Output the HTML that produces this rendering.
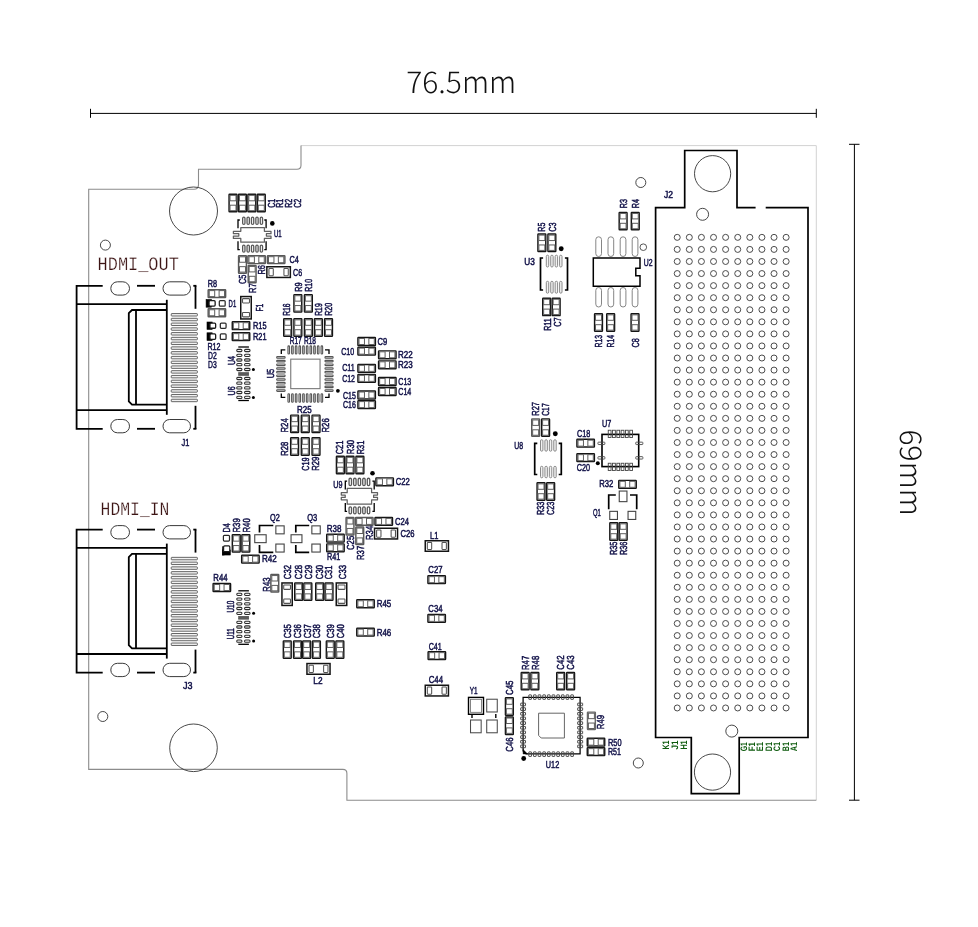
<!DOCTYPE html>
<html><head><meta charset="utf-8"><title>PCB dimension drawing</title>
<style>
html,body{margin:0;padding:0;background:#fff}
body{width:978px;height:927px;overflow:hidden}
svg{display:block;will-change:transform}
text{font-family:"Liberation Sans",sans-serif;text-rendering:geometricPrecision}
.l{font-size:10.2px;fill:#111148;stroke:#111148;stroke-width:.5px}
.g{font-size:9.4px;fill:#0c5a0c;font-weight:bold}
.h{font-family:"Liberation Mono",monospace;font-size:19.1px;fill:#3c1414;stroke:#fff;stroke-width:.25px}
.dim{font-family:"Noto Sans CJK SC","Liberation Sans",sans-serif;font-weight:300;font-size:30px;fill:#111}
</style></head><body>
<svg width="978" height="927" viewBox="0 0 978 927">
<rect width="978" height="927" fill="#fff"/>
<g id="dims">
<line x1="90" y1="113.4" x2="816.3" y2="113.4" stroke="#000" stroke-width="1"/>
<line x1="90.5" y1="108.8" x2="90.5" y2="117.8" stroke="#000" stroke-width="1"/>
<line x1="816.3" y1="108.8" x2="816.3" y2="117.8" stroke="#000" stroke-width="1"/>
<line x1="854.4" y1="144.3" x2="854.4" y2="800.2" stroke="#000" stroke-width="1"/>
<line x1="849" y1="144.3" x2="859.5" y2="144.3" stroke="#000" stroke-width="1"/>
<line x1="849" y1="800.2" x2="859.5" y2="800.2" stroke="#000" stroke-width="1"/>
<text class="dim" x="406.2" y="92.7" textLength="110" lengthAdjust="spacingAndGlyphs">76.5mm</text>
<text class="dim" transform="translate(900 429.6) rotate(90)" textLength="86.2" lengthAdjust="spacingAndGlyphs">69mm</text>
</g>
<g id="board">
<path d="M301 145.6 H816.3 V800.2" fill="none" stroke="#d2d2d2" stroke-width="1"/>
<path d="M816.3 800.2 H346.9 V773.4 Q346.9 769.4 342.9 769.4 H88.7 V189.3 H194 Q198.5 189.3 198.5 184.8 V169.3 H297 Q301 169.3 301 165.3 V145.6" fill="none" stroke="#8c8c8c" stroke-width="1.1"/>
<circle cx="193.5" cy="211" r="24" fill="none" stroke="#333" stroke-width="0.9"/>
<circle cx="193.5" cy="747.8" r="23.8" fill="none" stroke="#333" stroke-width="0.9"/>
<circle cx="105.4" cy="245.1" r="5" fill="none" stroke="#333" stroke-width="0.9"/>
<circle cx="102.8" cy="716.5" r="5" fill="none" stroke="#333" stroke-width="0.9"/>
<circle cx="640.8" cy="182.5" r="5" fill="none" stroke="#333" stroke-width="0.9"/>
<circle cx="638.3" cy="763" r="5" fill="none" stroke="#333" stroke-width="0.9"/>
</g>
<g id="hdmi">
<path d="M102.7 285.8 H76.6 V428.8 H102.7" fill="none" stroke="#000" stroke-width="1.8"/>
<line x1="137" y1="285.8" x2="155" y2="285.8" stroke="#000" stroke-width="1.8"/>
<line x1="137" y1="428.8" x2="155" y2="428.8" stroke="#000" stroke-width="1.8"/>
<line x1="195.5" y1="285.8" x2="195.5" y2="308.8" stroke="#000" stroke-width="1.8"/>
<line x1="195.5" y1="405.8" x2="195.5" y2="428.8" stroke="#000" stroke-width="1.8"/>
<line x1="193.3" y1="285.8" x2="196.4" y2="285.8" stroke="#000" stroke-width="1.8"/>
<line x1="193.3" y1="428.8" x2="196.4" y2="428.8" stroke="#000" stroke-width="1.8"/>
<rect x="110.8" y="281.8" width="18.7" height="13.3" fill="#fff" stroke="#3a3a3a" stroke-width="1" rx="6.65"/>
<rect x="110.8" y="419.5" width="18.7" height="13.3" fill="#fff" stroke="#3a3a3a" stroke-width="1" rx="6.65"/>
<rect x="163" y="281.8" width="27.5" height="13.3" fill="#fff" stroke="#3a3a3a" stroke-width="1" rx="6.65"/>
<rect x="163" y="419.5" width="27.5" height="13.3" fill="#fff" stroke="#3a3a3a" stroke-width="1" rx="6.65"/>
<line x1="76.6" y1="304.1" x2="166.8" y2="304.1" stroke="#000" stroke-width="1.8"/>
<line x1="76.6" y1="410.2" x2="166.8" y2="410.2" stroke="#000" stroke-width="1.8"/>
<line x1="166.8" y1="299.8" x2="166.8" y2="414.8" stroke="#000" stroke-width="1.8"/>
<path d="M166.8 310 H132 L128.8 313.2 V401.4 L132 404.6 H166.8" fill="none" stroke="#000" stroke-width="1.8"/>
<line x1="136" y1="310" x2="136" y2="404.6" stroke="#000" stroke-width="1.8"/>
<rect x="171.25" y="313.55" width="26.1" height="2.45" fill="#f1f1f1" stroke="#555" stroke-width="0.9" rx="0.5"/>
<rect x="171.25" y="318.31" width="26.1" height="2.45" fill="#f1f1f1" stroke="#555" stroke-width="0.9" rx="0.5"/>
<rect x="171.25" y="323.07" width="26.1" height="2.45" fill="#f1f1f1" stroke="#555" stroke-width="0.9" rx="0.5"/>
<rect x="171.25" y="327.83" width="26.1" height="2.45" fill="#f1f1f1" stroke="#555" stroke-width="0.9" rx="0.5"/>
<rect x="171.25" y="332.59" width="26.1" height="2.45" fill="#f1f1f1" stroke="#555" stroke-width="0.9" rx="0.5"/>
<rect x="171.25" y="337.35" width="26.1" height="2.45" fill="#f1f1f1" stroke="#555" stroke-width="0.9" rx="0.5"/>
<rect x="171.25" y="342.11" width="26.1" height="2.45" fill="#f1f1f1" stroke="#555" stroke-width="0.9" rx="0.5"/>
<rect x="171.25" y="346.87" width="26.1" height="2.45" fill="#f1f1f1" stroke="#555" stroke-width="0.9" rx="0.5"/>
<rect x="171.25" y="351.63" width="26.1" height="2.45" fill="#f1f1f1" stroke="#555" stroke-width="0.9" rx="0.5"/>
<rect x="171.25" y="356.39" width="26.1" height="2.45" fill="#f1f1f1" stroke="#555" stroke-width="0.9" rx="0.5"/>
<rect x="171.25" y="361.15" width="26.1" height="2.45" fill="#f1f1f1" stroke="#555" stroke-width="0.9" rx="0.5"/>
<rect x="171.25" y="365.91" width="26.1" height="2.45" fill="#f1f1f1" stroke="#555" stroke-width="0.9" rx="0.5"/>
<rect x="171.25" y="370.67" width="26.1" height="2.45" fill="#f1f1f1" stroke="#555" stroke-width="0.9" rx="0.5"/>
<rect x="171.25" y="375.43" width="26.1" height="2.45" fill="#f1f1f1" stroke="#555" stroke-width="0.9" rx="0.5"/>
<rect x="171.25" y="380.19" width="26.1" height="2.45" fill="#f1f1f1" stroke="#555" stroke-width="0.9" rx="0.5"/>
<rect x="171.25" y="384.95" width="26.1" height="2.45" fill="#f1f1f1" stroke="#555" stroke-width="0.9" rx="0.5"/>
<rect x="171.25" y="389.71" width="26.1" height="2.45" fill="#f1f1f1" stroke="#555" stroke-width="0.9" rx="0.5"/>
<rect x="171.25" y="394.47" width="26.1" height="2.45" fill="#f1f1f1" stroke="#555" stroke-width="0.9" rx="0.5"/>
<rect x="171.25" y="399.23" width="26.1" height="2.45" fill="#f1f1f1" stroke="#555" stroke-width="0.9" rx="0.5"/>
<text class="h" x="97.6" y="270.3" textLength="81.2" lengthAdjust="spacingAndGlyphs">HDMI_OUT</text>
<text class="l" x="181.5" y="446.4" textLength="7.8" lengthAdjust="spacingAndGlyphs">J1</text>
<path d="M102.7 529.6 H76.6 V672.6 H102.7" fill="none" stroke="#000" stroke-width="1.8"/>
<line x1="137" y1="529.6" x2="155" y2="529.6" stroke="#000" stroke-width="1.8"/>
<line x1="137" y1="672.6" x2="155" y2="672.6" stroke="#000" stroke-width="1.8"/>
<line x1="195.5" y1="529.6" x2="195.5" y2="552.6" stroke="#000" stroke-width="1.8"/>
<line x1="195.5" y1="649.6" x2="195.5" y2="672.6" stroke="#000" stroke-width="1.8"/>
<line x1="193.3" y1="529.6" x2="196.4" y2="529.6" stroke="#000" stroke-width="1.8"/>
<line x1="193.3" y1="672.6" x2="196.4" y2="672.6" stroke="#000" stroke-width="1.8"/>
<rect x="110.8" y="525.6" width="18.7" height="13.3" fill="#fff" stroke="#3a3a3a" stroke-width="1" rx="6.65"/>
<rect x="110.8" y="663.3" width="18.7" height="13.3" fill="#fff" stroke="#3a3a3a" stroke-width="1" rx="6.65"/>
<rect x="163" y="525.6" width="27.5" height="13.3" fill="#fff" stroke="#3a3a3a" stroke-width="1" rx="6.65"/>
<rect x="163" y="663.3" width="27.5" height="13.3" fill="#fff" stroke="#3a3a3a" stroke-width="1" rx="6.65"/>
<line x1="76.6" y1="547.9" x2="166.8" y2="547.9" stroke="#000" stroke-width="1.8"/>
<line x1="76.6" y1="654" x2="166.8" y2="654" stroke="#000" stroke-width="1.8"/>
<line x1="166.8" y1="543.6" x2="166.8" y2="658.6" stroke="#000" stroke-width="1.8"/>
<path d="M166.8 553.8 H132 L128.8 557 V645.2 L132 648.4 H166.8" fill="none" stroke="#000" stroke-width="1.8"/>
<line x1="136" y1="553.8" x2="136" y2="648.4" stroke="#000" stroke-width="1.8"/>
<rect x="171.25" y="557.35" width="26.1" height="2.45" fill="#f1f1f1" stroke="#555" stroke-width="0.9" rx="0.5"/>
<rect x="171.25" y="562.11" width="26.1" height="2.45" fill="#f1f1f1" stroke="#555" stroke-width="0.9" rx="0.5"/>
<rect x="171.25" y="566.87" width="26.1" height="2.45" fill="#f1f1f1" stroke="#555" stroke-width="0.9" rx="0.5"/>
<rect x="171.25" y="571.63" width="26.1" height="2.45" fill="#f1f1f1" stroke="#555" stroke-width="0.9" rx="0.5"/>
<rect x="171.25" y="576.39" width="26.1" height="2.45" fill="#f1f1f1" stroke="#555" stroke-width="0.9" rx="0.5"/>
<rect x="171.25" y="581.15" width="26.1" height="2.45" fill="#f1f1f1" stroke="#555" stroke-width="0.9" rx="0.5"/>
<rect x="171.25" y="585.91" width="26.1" height="2.45" fill="#f1f1f1" stroke="#555" stroke-width="0.9" rx="0.5"/>
<rect x="171.25" y="590.67" width="26.1" height="2.45" fill="#f1f1f1" stroke="#555" stroke-width="0.9" rx="0.5"/>
<rect x="171.25" y="595.43" width="26.1" height="2.45" fill="#f1f1f1" stroke="#555" stroke-width="0.9" rx="0.5"/>
<rect x="171.25" y="600.19" width="26.1" height="2.45" fill="#f1f1f1" stroke="#555" stroke-width="0.9" rx="0.5"/>
<rect x="171.25" y="604.95" width="26.1" height="2.45" fill="#f1f1f1" stroke="#555" stroke-width="0.9" rx="0.5"/>
<rect x="171.25" y="609.71" width="26.1" height="2.45" fill="#f1f1f1" stroke="#555" stroke-width="0.9" rx="0.5"/>
<rect x="171.25" y="614.47" width="26.1" height="2.45" fill="#f1f1f1" stroke="#555" stroke-width="0.9" rx="0.5"/>
<rect x="171.25" y="619.23" width="26.1" height="2.45" fill="#f1f1f1" stroke="#555" stroke-width="0.9" rx="0.5"/>
<rect x="171.25" y="623.99" width="26.1" height="2.45" fill="#f1f1f1" stroke="#555" stroke-width="0.9" rx="0.5"/>
<rect x="171.25" y="628.75" width="26.1" height="2.45" fill="#f1f1f1" stroke="#555" stroke-width="0.9" rx="0.5"/>
<rect x="171.25" y="633.51" width="26.1" height="2.45" fill="#f1f1f1" stroke="#555" stroke-width="0.9" rx="0.5"/>
<rect x="171.25" y="638.27" width="26.1" height="2.45" fill="#f1f1f1" stroke="#555" stroke-width="0.9" rx="0.5"/>
<rect x="171.25" y="643.03" width="26.1" height="2.45" fill="#f1f1f1" stroke="#555" stroke-width="0.9" rx="0.5"/>
<text class="h" x="100.6" y="514.8" textLength="68.8" lengthAdjust="spacingAndGlyphs">HDMI_IN</text>
<text class="l" x="182.9" y="689.2" textLength="9.5" lengthAdjust="spacingAndGlyphs">J3</text>
</g>
<g id="j2">
<path d="M755.6 207.6 H737 V150.5 H684.7 V207.6 H655.6 V737.5 H691.3 V793.6 H739.2 V737.5 H808 V207.6 H765.7" fill="none" stroke="#000" stroke-width="1.7" stroke-linejoin="miter"/>
<circle cx="712.6" cy="173.7" r="18.1" fill="none" stroke="#333" stroke-width="0.9"/>
<circle cx="712.5" cy="772.1" r="18.1" fill="none" stroke="#333" stroke-width="0.9"/>
<circle cx="702.6" cy="214.3" r="6" fill="none" stroke="#333" stroke-width="0.9"/>
<circle cx="731.8" cy="731.1" r="6" fill="none" stroke="#333" stroke-width="0.9"/>
<g fill="none" stroke="#383838" stroke-width="0.9">
<circle cx="677.22" cy="237.35" r="3"/>
<circle cx="689.32" cy="237.35" r="3"/>
<circle cx="701.42" cy="237.35" r="3"/>
<circle cx="713.52" cy="237.35" r="3"/>
<circle cx="725.62" cy="237.35" r="3"/>
<circle cx="737.72" cy="237.35" r="3"/>
<circle cx="749.82" cy="237.35" r="3"/>
<circle cx="761.92" cy="237.35" r="3"/>
<circle cx="774.02" cy="237.35" r="3"/>
<circle cx="786.12" cy="237.35" r="3"/>
<circle cx="677.22" cy="249.42" r="3"/>
<circle cx="689.32" cy="249.42" r="3"/>
<circle cx="701.42" cy="249.42" r="3"/>
<circle cx="713.52" cy="249.42" r="3"/>
<circle cx="725.62" cy="249.42" r="3"/>
<circle cx="737.72" cy="249.42" r="3"/>
<circle cx="749.82" cy="249.42" r="3"/>
<circle cx="761.92" cy="249.42" r="3"/>
<circle cx="774.02" cy="249.42" r="3"/>
<circle cx="786.12" cy="249.42" r="3"/>
<circle cx="677.22" cy="261.48" r="3"/>
<circle cx="689.32" cy="261.48" r="3"/>
<circle cx="701.42" cy="261.48" r="3"/>
<circle cx="713.52" cy="261.48" r="3"/>
<circle cx="725.62" cy="261.48" r="3"/>
<circle cx="737.72" cy="261.48" r="3"/>
<circle cx="749.82" cy="261.48" r="3"/>
<circle cx="761.92" cy="261.48" r="3"/>
<circle cx="774.02" cy="261.48" r="3"/>
<circle cx="786.12" cy="261.48" r="3"/>
<circle cx="677.22" cy="273.55" r="3"/>
<circle cx="689.32" cy="273.55" r="3"/>
<circle cx="701.42" cy="273.55" r="3"/>
<circle cx="713.52" cy="273.55" r="3"/>
<circle cx="725.62" cy="273.55" r="3"/>
<circle cx="737.72" cy="273.55" r="3"/>
<circle cx="749.82" cy="273.55" r="3"/>
<circle cx="761.92" cy="273.55" r="3"/>
<circle cx="774.02" cy="273.55" r="3"/>
<circle cx="786.12" cy="273.55" r="3"/>
<circle cx="677.22" cy="285.62" r="3"/>
<circle cx="689.32" cy="285.62" r="3"/>
<circle cx="701.42" cy="285.62" r="3"/>
<circle cx="713.52" cy="285.62" r="3"/>
<circle cx="725.62" cy="285.62" r="3"/>
<circle cx="737.72" cy="285.62" r="3"/>
<circle cx="749.82" cy="285.62" r="3"/>
<circle cx="761.92" cy="285.62" r="3"/>
<circle cx="774.02" cy="285.62" r="3"/>
<circle cx="786.12" cy="285.62" r="3"/>
<circle cx="677.22" cy="297.69" r="3"/>
<circle cx="689.32" cy="297.69" r="3"/>
<circle cx="701.42" cy="297.69" r="3"/>
<circle cx="713.52" cy="297.69" r="3"/>
<circle cx="725.62" cy="297.69" r="3"/>
<circle cx="737.72" cy="297.69" r="3"/>
<circle cx="749.82" cy="297.69" r="3"/>
<circle cx="761.92" cy="297.69" r="3"/>
<circle cx="774.02" cy="297.69" r="3"/>
<circle cx="786.12" cy="297.69" r="3"/>
<circle cx="677.22" cy="309.75" r="3"/>
<circle cx="689.32" cy="309.75" r="3"/>
<circle cx="701.42" cy="309.75" r="3"/>
<circle cx="713.52" cy="309.75" r="3"/>
<circle cx="725.62" cy="309.75" r="3"/>
<circle cx="737.72" cy="309.75" r="3"/>
<circle cx="749.82" cy="309.75" r="3"/>
<circle cx="761.92" cy="309.75" r="3"/>
<circle cx="774.02" cy="309.75" r="3"/>
<circle cx="786.12" cy="309.75" r="3"/>
<circle cx="677.22" cy="321.82" r="3"/>
<circle cx="689.32" cy="321.82" r="3"/>
<circle cx="701.42" cy="321.82" r="3"/>
<circle cx="713.52" cy="321.82" r="3"/>
<circle cx="725.62" cy="321.82" r="3"/>
<circle cx="737.72" cy="321.82" r="3"/>
<circle cx="749.82" cy="321.82" r="3"/>
<circle cx="761.92" cy="321.82" r="3"/>
<circle cx="774.02" cy="321.82" r="3"/>
<circle cx="786.12" cy="321.82" r="3"/>
<circle cx="677.22" cy="333.89" r="3"/>
<circle cx="689.32" cy="333.89" r="3"/>
<circle cx="701.42" cy="333.89" r="3"/>
<circle cx="713.52" cy="333.89" r="3"/>
<circle cx="725.62" cy="333.89" r="3"/>
<circle cx="737.72" cy="333.89" r="3"/>
<circle cx="749.82" cy="333.89" r="3"/>
<circle cx="761.92" cy="333.89" r="3"/>
<circle cx="774.02" cy="333.89" r="3"/>
<circle cx="786.12" cy="333.89" r="3"/>
<circle cx="677.22" cy="345.95" r="3"/>
<circle cx="689.32" cy="345.95" r="3"/>
<circle cx="701.42" cy="345.95" r="3"/>
<circle cx="713.52" cy="345.95" r="3"/>
<circle cx="725.62" cy="345.95" r="3"/>
<circle cx="737.72" cy="345.95" r="3"/>
<circle cx="749.82" cy="345.95" r="3"/>
<circle cx="761.92" cy="345.95" r="3"/>
<circle cx="774.02" cy="345.95" r="3"/>
<circle cx="786.12" cy="345.95" r="3"/>
<circle cx="677.22" cy="358.02" r="3"/>
<circle cx="689.32" cy="358.02" r="3"/>
<circle cx="701.42" cy="358.02" r="3"/>
<circle cx="713.52" cy="358.02" r="3"/>
<circle cx="725.62" cy="358.02" r="3"/>
<circle cx="737.72" cy="358.02" r="3"/>
<circle cx="749.82" cy="358.02" r="3"/>
<circle cx="761.92" cy="358.02" r="3"/>
<circle cx="774.02" cy="358.02" r="3"/>
<circle cx="786.12" cy="358.02" r="3"/>
<circle cx="677.22" cy="370.09" r="3"/>
<circle cx="689.32" cy="370.09" r="3"/>
<circle cx="701.42" cy="370.09" r="3"/>
<circle cx="713.52" cy="370.09" r="3"/>
<circle cx="725.62" cy="370.09" r="3"/>
<circle cx="737.72" cy="370.09" r="3"/>
<circle cx="749.82" cy="370.09" r="3"/>
<circle cx="761.92" cy="370.09" r="3"/>
<circle cx="774.02" cy="370.09" r="3"/>
<circle cx="786.12" cy="370.09" r="3"/>
<circle cx="677.22" cy="382.15" r="3"/>
<circle cx="689.32" cy="382.15" r="3"/>
<circle cx="701.42" cy="382.15" r="3"/>
<circle cx="713.52" cy="382.15" r="3"/>
<circle cx="725.62" cy="382.15" r="3"/>
<circle cx="737.72" cy="382.15" r="3"/>
<circle cx="749.82" cy="382.15" r="3"/>
<circle cx="761.92" cy="382.15" r="3"/>
<circle cx="774.02" cy="382.15" r="3"/>
<circle cx="786.12" cy="382.15" r="3"/>
<circle cx="677.22" cy="394.22" r="3"/>
<circle cx="689.32" cy="394.22" r="3"/>
<circle cx="701.42" cy="394.22" r="3"/>
<circle cx="713.52" cy="394.22" r="3"/>
<circle cx="725.62" cy="394.22" r="3"/>
<circle cx="737.72" cy="394.22" r="3"/>
<circle cx="749.82" cy="394.22" r="3"/>
<circle cx="761.92" cy="394.22" r="3"/>
<circle cx="774.02" cy="394.22" r="3"/>
<circle cx="786.12" cy="394.22" r="3"/>
<circle cx="677.22" cy="406.29" r="3"/>
<circle cx="689.32" cy="406.29" r="3"/>
<circle cx="701.42" cy="406.29" r="3"/>
<circle cx="713.52" cy="406.29" r="3"/>
<circle cx="725.62" cy="406.29" r="3"/>
<circle cx="737.72" cy="406.29" r="3"/>
<circle cx="749.82" cy="406.29" r="3"/>
<circle cx="761.92" cy="406.29" r="3"/>
<circle cx="774.02" cy="406.29" r="3"/>
<circle cx="786.12" cy="406.29" r="3"/>
<circle cx="677.22" cy="418.36" r="3"/>
<circle cx="689.32" cy="418.36" r="3"/>
<circle cx="701.42" cy="418.36" r="3"/>
<circle cx="713.52" cy="418.36" r="3"/>
<circle cx="725.62" cy="418.36" r="3"/>
<circle cx="737.72" cy="418.36" r="3"/>
<circle cx="749.82" cy="418.36" r="3"/>
<circle cx="761.92" cy="418.36" r="3"/>
<circle cx="774.02" cy="418.36" r="3"/>
<circle cx="786.12" cy="418.36" r="3"/>
<circle cx="677.22" cy="430.42" r="3"/>
<circle cx="689.32" cy="430.42" r="3"/>
<circle cx="701.42" cy="430.42" r="3"/>
<circle cx="713.52" cy="430.42" r="3"/>
<circle cx="725.62" cy="430.42" r="3"/>
<circle cx="737.72" cy="430.42" r="3"/>
<circle cx="749.82" cy="430.42" r="3"/>
<circle cx="761.92" cy="430.42" r="3"/>
<circle cx="774.02" cy="430.42" r="3"/>
<circle cx="786.12" cy="430.42" r="3"/>
<circle cx="677.22" cy="442.49" r="3"/>
<circle cx="689.32" cy="442.49" r="3"/>
<circle cx="701.42" cy="442.49" r="3"/>
<circle cx="713.52" cy="442.49" r="3"/>
<circle cx="725.62" cy="442.49" r="3"/>
<circle cx="737.72" cy="442.49" r="3"/>
<circle cx="749.82" cy="442.49" r="3"/>
<circle cx="761.92" cy="442.49" r="3"/>
<circle cx="774.02" cy="442.49" r="3"/>
<circle cx="786.12" cy="442.49" r="3"/>
<circle cx="677.22" cy="454.56" r="3"/>
<circle cx="689.32" cy="454.56" r="3"/>
<circle cx="701.42" cy="454.56" r="3"/>
<circle cx="713.52" cy="454.56" r="3"/>
<circle cx="725.62" cy="454.56" r="3"/>
<circle cx="737.72" cy="454.56" r="3"/>
<circle cx="749.82" cy="454.56" r="3"/>
<circle cx="761.92" cy="454.56" r="3"/>
<circle cx="774.02" cy="454.56" r="3"/>
<circle cx="786.12" cy="454.56" r="3"/>
<circle cx="677.22" cy="466.62" r="3"/>
<circle cx="689.32" cy="466.62" r="3"/>
<circle cx="701.42" cy="466.62" r="3"/>
<circle cx="713.52" cy="466.62" r="3"/>
<circle cx="725.62" cy="466.62" r="3"/>
<circle cx="737.72" cy="466.62" r="3"/>
<circle cx="749.82" cy="466.62" r="3"/>
<circle cx="761.92" cy="466.62" r="3"/>
<circle cx="774.02" cy="466.62" r="3"/>
<circle cx="786.12" cy="466.62" r="3"/>
<circle cx="677.22" cy="478.69" r="3"/>
<circle cx="689.32" cy="478.69" r="3"/>
<circle cx="701.42" cy="478.69" r="3"/>
<circle cx="713.52" cy="478.69" r="3"/>
<circle cx="725.62" cy="478.69" r="3"/>
<circle cx="737.72" cy="478.69" r="3"/>
<circle cx="749.82" cy="478.69" r="3"/>
<circle cx="761.92" cy="478.69" r="3"/>
<circle cx="774.02" cy="478.69" r="3"/>
<circle cx="786.12" cy="478.69" r="3"/>
<circle cx="677.22" cy="490.76" r="3"/>
<circle cx="689.32" cy="490.76" r="3"/>
<circle cx="701.42" cy="490.76" r="3"/>
<circle cx="713.52" cy="490.76" r="3"/>
<circle cx="725.62" cy="490.76" r="3"/>
<circle cx="737.72" cy="490.76" r="3"/>
<circle cx="749.82" cy="490.76" r="3"/>
<circle cx="761.92" cy="490.76" r="3"/>
<circle cx="774.02" cy="490.76" r="3"/>
<circle cx="786.12" cy="490.76" r="3"/>
<circle cx="677.22" cy="502.82" r="3"/>
<circle cx="689.32" cy="502.82" r="3"/>
<circle cx="701.42" cy="502.82" r="3"/>
<circle cx="713.52" cy="502.82" r="3"/>
<circle cx="725.62" cy="502.82" r="3"/>
<circle cx="737.72" cy="502.82" r="3"/>
<circle cx="749.82" cy="502.82" r="3"/>
<circle cx="761.92" cy="502.82" r="3"/>
<circle cx="774.02" cy="502.82" r="3"/>
<circle cx="786.12" cy="502.82" r="3"/>
<circle cx="677.22" cy="514.89" r="3"/>
<circle cx="689.32" cy="514.89" r="3"/>
<circle cx="701.42" cy="514.89" r="3"/>
<circle cx="713.52" cy="514.89" r="3"/>
<circle cx="725.62" cy="514.89" r="3"/>
<circle cx="737.72" cy="514.89" r="3"/>
<circle cx="749.82" cy="514.89" r="3"/>
<circle cx="761.92" cy="514.89" r="3"/>
<circle cx="774.02" cy="514.89" r="3"/>
<circle cx="786.12" cy="514.89" r="3"/>
<circle cx="677.22" cy="526.96" r="3"/>
<circle cx="689.32" cy="526.96" r="3"/>
<circle cx="701.42" cy="526.96" r="3"/>
<circle cx="713.52" cy="526.96" r="3"/>
<circle cx="725.62" cy="526.96" r="3"/>
<circle cx="737.72" cy="526.96" r="3"/>
<circle cx="749.82" cy="526.96" r="3"/>
<circle cx="761.92" cy="526.96" r="3"/>
<circle cx="774.02" cy="526.96" r="3"/>
<circle cx="786.12" cy="526.96" r="3"/>
<circle cx="677.22" cy="539.02" r="3"/>
<circle cx="689.32" cy="539.02" r="3"/>
<circle cx="701.42" cy="539.02" r="3"/>
<circle cx="713.52" cy="539.02" r="3"/>
<circle cx="725.62" cy="539.02" r="3"/>
<circle cx="737.72" cy="539.02" r="3"/>
<circle cx="749.82" cy="539.02" r="3"/>
<circle cx="761.92" cy="539.02" r="3"/>
<circle cx="774.02" cy="539.02" r="3"/>
<circle cx="786.12" cy="539.02" r="3"/>
<circle cx="677.22" cy="551.09" r="3"/>
<circle cx="689.32" cy="551.09" r="3"/>
<circle cx="701.42" cy="551.09" r="3"/>
<circle cx="713.52" cy="551.09" r="3"/>
<circle cx="725.62" cy="551.09" r="3"/>
<circle cx="737.72" cy="551.09" r="3"/>
<circle cx="749.82" cy="551.09" r="3"/>
<circle cx="761.92" cy="551.09" r="3"/>
<circle cx="774.02" cy="551.09" r="3"/>
<circle cx="786.12" cy="551.09" r="3"/>
<circle cx="677.22" cy="563.16" r="3"/>
<circle cx="689.32" cy="563.16" r="3"/>
<circle cx="701.42" cy="563.16" r="3"/>
<circle cx="713.52" cy="563.16" r="3"/>
<circle cx="725.62" cy="563.16" r="3"/>
<circle cx="737.72" cy="563.16" r="3"/>
<circle cx="749.82" cy="563.16" r="3"/>
<circle cx="761.92" cy="563.16" r="3"/>
<circle cx="774.02" cy="563.16" r="3"/>
<circle cx="786.12" cy="563.16" r="3"/>
<circle cx="677.22" cy="575.23" r="3"/>
<circle cx="689.32" cy="575.23" r="3"/>
<circle cx="701.42" cy="575.23" r="3"/>
<circle cx="713.52" cy="575.23" r="3"/>
<circle cx="725.62" cy="575.23" r="3"/>
<circle cx="737.72" cy="575.23" r="3"/>
<circle cx="749.82" cy="575.23" r="3"/>
<circle cx="761.92" cy="575.23" r="3"/>
<circle cx="774.02" cy="575.23" r="3"/>
<circle cx="786.12" cy="575.23" r="3"/>
<circle cx="677.22" cy="587.29" r="3"/>
<circle cx="689.32" cy="587.29" r="3"/>
<circle cx="701.42" cy="587.29" r="3"/>
<circle cx="713.52" cy="587.29" r="3"/>
<circle cx="725.62" cy="587.29" r="3"/>
<circle cx="737.72" cy="587.29" r="3"/>
<circle cx="749.82" cy="587.29" r="3"/>
<circle cx="761.92" cy="587.29" r="3"/>
<circle cx="774.02" cy="587.29" r="3"/>
<circle cx="786.12" cy="587.29" r="3"/>
<circle cx="677.22" cy="599.36" r="3"/>
<circle cx="689.32" cy="599.36" r="3"/>
<circle cx="701.42" cy="599.36" r="3"/>
<circle cx="713.52" cy="599.36" r="3"/>
<circle cx="725.62" cy="599.36" r="3"/>
<circle cx="737.72" cy="599.36" r="3"/>
<circle cx="749.82" cy="599.36" r="3"/>
<circle cx="761.92" cy="599.36" r="3"/>
<circle cx="774.02" cy="599.36" r="3"/>
<circle cx="786.12" cy="599.36" r="3"/>
<circle cx="677.22" cy="611.43" r="3"/>
<circle cx="689.32" cy="611.43" r="3"/>
<circle cx="701.42" cy="611.43" r="3"/>
<circle cx="713.52" cy="611.43" r="3"/>
<circle cx="725.62" cy="611.43" r="3"/>
<circle cx="737.72" cy="611.43" r="3"/>
<circle cx="749.82" cy="611.43" r="3"/>
<circle cx="761.92" cy="611.43" r="3"/>
<circle cx="774.02" cy="611.43" r="3"/>
<circle cx="786.12" cy="611.43" r="3"/>
<circle cx="677.22" cy="623.49" r="3"/>
<circle cx="689.32" cy="623.49" r="3"/>
<circle cx="701.42" cy="623.49" r="3"/>
<circle cx="713.52" cy="623.49" r="3"/>
<circle cx="725.62" cy="623.49" r="3"/>
<circle cx="737.72" cy="623.49" r="3"/>
<circle cx="749.82" cy="623.49" r="3"/>
<circle cx="761.92" cy="623.49" r="3"/>
<circle cx="774.02" cy="623.49" r="3"/>
<circle cx="786.12" cy="623.49" r="3"/>
<circle cx="677.22" cy="635.56" r="3"/>
<circle cx="689.32" cy="635.56" r="3"/>
<circle cx="701.42" cy="635.56" r="3"/>
<circle cx="713.52" cy="635.56" r="3"/>
<circle cx="725.62" cy="635.56" r="3"/>
<circle cx="737.72" cy="635.56" r="3"/>
<circle cx="749.82" cy="635.56" r="3"/>
<circle cx="761.92" cy="635.56" r="3"/>
<circle cx="774.02" cy="635.56" r="3"/>
<circle cx="786.12" cy="635.56" r="3"/>
<circle cx="677.22" cy="647.63" r="3"/>
<circle cx="689.32" cy="647.63" r="3"/>
<circle cx="701.42" cy="647.63" r="3"/>
<circle cx="713.52" cy="647.63" r="3"/>
<circle cx="725.62" cy="647.63" r="3"/>
<circle cx="737.72" cy="647.63" r="3"/>
<circle cx="749.82" cy="647.63" r="3"/>
<circle cx="761.92" cy="647.63" r="3"/>
<circle cx="774.02" cy="647.63" r="3"/>
<circle cx="786.12" cy="647.63" r="3"/>
<circle cx="677.22" cy="659.7" r="3"/>
<circle cx="689.32" cy="659.7" r="3"/>
<circle cx="701.42" cy="659.7" r="3"/>
<circle cx="713.52" cy="659.7" r="3"/>
<circle cx="725.62" cy="659.7" r="3"/>
<circle cx="737.72" cy="659.7" r="3"/>
<circle cx="749.82" cy="659.7" r="3"/>
<circle cx="761.92" cy="659.7" r="3"/>
<circle cx="774.02" cy="659.7" r="3"/>
<circle cx="786.12" cy="659.7" r="3"/>
<circle cx="677.22" cy="671.76" r="3"/>
<circle cx="689.32" cy="671.76" r="3"/>
<circle cx="701.42" cy="671.76" r="3"/>
<circle cx="713.52" cy="671.76" r="3"/>
<circle cx="725.62" cy="671.76" r="3"/>
<circle cx="737.72" cy="671.76" r="3"/>
<circle cx="749.82" cy="671.76" r="3"/>
<circle cx="761.92" cy="671.76" r="3"/>
<circle cx="774.02" cy="671.76" r="3"/>
<circle cx="786.12" cy="671.76" r="3"/>
<circle cx="677.22" cy="683.83" r="3"/>
<circle cx="689.32" cy="683.83" r="3"/>
<circle cx="701.42" cy="683.83" r="3"/>
<circle cx="713.52" cy="683.83" r="3"/>
<circle cx="725.62" cy="683.83" r="3"/>
<circle cx="737.72" cy="683.83" r="3"/>
<circle cx="749.82" cy="683.83" r="3"/>
<circle cx="761.92" cy="683.83" r="3"/>
<circle cx="774.02" cy="683.83" r="3"/>
<circle cx="786.12" cy="683.83" r="3"/>
<circle cx="677.22" cy="695.9" r="3"/>
<circle cx="689.32" cy="695.9" r="3"/>
<circle cx="701.42" cy="695.9" r="3"/>
<circle cx="713.52" cy="695.9" r="3"/>
<circle cx="725.62" cy="695.9" r="3"/>
<circle cx="737.72" cy="695.9" r="3"/>
<circle cx="749.82" cy="695.9" r="3"/>
<circle cx="761.92" cy="695.9" r="3"/>
<circle cx="774.02" cy="695.9" r="3"/>
<circle cx="786.12" cy="695.9" r="3"/>
<circle cx="677.22" cy="707.96" r="3"/>
<circle cx="689.32" cy="707.96" r="3"/>
<circle cx="701.42" cy="707.96" r="3"/>
<circle cx="713.52" cy="707.96" r="3"/>
<circle cx="725.62" cy="707.96" r="3"/>
<circle cx="737.72" cy="707.96" r="3"/>
<circle cx="749.82" cy="707.96" r="3"/>
<circle cx="761.92" cy="707.96" r="3"/>
<circle cx="774.02" cy="707.96" r="3"/>
<circle cx="786.12" cy="707.96" r="3"/>
</g>
<text class="l" x="664" y="198.1" textLength="9" lengthAdjust="spacingAndGlyphs">J2</text>
<text class="g" transform="translate(668.8 749.6) rotate(-90)" textLength="9.1" lengthAdjust="spacingAndGlyphs">K1</text>
<text class="g" transform="translate(677.9 749.6) rotate(-90)" textLength="9.1" lengthAdjust="spacingAndGlyphs">J1</text>
<text class="g" transform="translate(687 749.6) rotate(-90)" textLength="9.1" lengthAdjust="spacingAndGlyphs">H1</text>
<text class="g" transform="translate(746.5 751.2) rotate(-90)" textLength="9.1" lengthAdjust="spacingAndGlyphs">G1</text>
<text class="g" transform="translate(754.92 751.2) rotate(-90)" textLength="9.1" lengthAdjust="spacingAndGlyphs">F1</text>
<text class="g" transform="translate(763.34 751.2) rotate(-90)" textLength="9.1" lengthAdjust="spacingAndGlyphs">E1</text>
<text class="g" transform="translate(771.76 751.2) rotate(-90)" textLength="9.1" lengthAdjust="spacingAndGlyphs">D1</text>
<text class="g" transform="translate(780.18 751.2) rotate(-90)" textLength="9.1" lengthAdjust="spacingAndGlyphs">C1</text>
<text class="g" transform="translate(788.6 751.2) rotate(-90)" textLength="9.1" lengthAdjust="spacingAndGlyphs">B1</text>
<text class="g" transform="translate(797.02 751.2) rotate(-90)" textLength="9.1" lengthAdjust="spacingAndGlyphs">A1</text>
</g>
<g id="parts">
<rect x="229.07" y="194.28" width="7.85" height="17.45" fill="#fff" stroke="#141414" stroke-width="1.45" rx="0.5"/>
<rect x="230" y="195.35" width="6" height="5.45" fill="#fff" stroke="#5e5e5e" stroke-width="1"/>
<rect x="230" y="205.2" width="6" height="5.45" fill="#fff" stroke="#5e5e5e" stroke-width="1"/>
<rect x="238.5" y="194.28" width="7.85" height="17.45" fill="#fff" stroke="#141414" stroke-width="1.45" rx="0.5"/>
<rect x="239.43" y="195.35" width="6" height="5.45" fill="#fff" stroke="#5e5e5e" stroke-width="1"/>
<rect x="239.43" y="205.2" width="6" height="5.45" fill="#fff" stroke="#5e5e5e" stroke-width="1"/>
<rect x="247.93" y="194.28" width="7.85" height="17.45" fill="#fff" stroke="#141414" stroke-width="1.45" rx="0.5"/>
<rect x="248.86" y="195.35" width="6" height="5.45" fill="#fff" stroke="#5e5e5e" stroke-width="1"/>
<rect x="248.86" y="205.2" width="6" height="5.45" fill="#fff" stroke="#5e5e5e" stroke-width="1"/>
<rect x="257.37" y="194.28" width="7.85" height="17.45" fill="#fff" stroke="#141414" stroke-width="1.45" rx="0.5"/>
<rect x="258.29" y="195.35" width="6" height="5.45" fill="#fff" stroke="#5e5e5e" stroke-width="1"/>
<rect x="258.29" y="205.2" width="6" height="5.45" fill="#fff" stroke="#5e5e5e" stroke-width="1"/>
<text class="l" transform="translate(274.65 207.8) rotate(-90)" textLength="9" lengthAdjust="spacingAndGlyphs">C1</text>
<text class="l" transform="translate(283.15 207.8) rotate(-90)" textLength="9" lengthAdjust="spacingAndGlyphs">R1</text>
<text class="l" transform="translate(291.85 207.8) rotate(-90)" textLength="9" lengthAdjust="spacingAndGlyphs">R2</text>
<text class="l" transform="translate(300.85 207.8) rotate(-90)" textLength="9" lengthAdjust="spacingAndGlyphs">C2</text>
<rect x="242.65" y="217.05" width="2.3" height="7.3" fill="#fff" stroke="#585858" stroke-width="1.3" rx="1.15"/>
<rect x="242.65" y="245.15" width="2.3" height="7" fill="#fff" stroke="#585858" stroke-width="1.3" rx="1.15"/>
<rect x="247.05" y="217.05" width="2.3" height="7.3" fill="#fff" stroke="#585858" stroke-width="1.3" rx="1.15"/>
<rect x="247.05" y="245.15" width="2.3" height="7" fill="#fff" stroke="#585858" stroke-width="1.3" rx="1.15"/>
<rect x="251.45" y="217.05" width="2.3" height="7.3" fill="#fff" stroke="#585858" stroke-width="1.3" rx="1.15"/>
<rect x="251.45" y="245.15" width="2.3" height="7" fill="#fff" stroke="#585858" stroke-width="1.3" rx="1.15"/>
<rect x="255.85" y="217.05" width="2.3" height="7.3" fill="#fff" stroke="#585858" stroke-width="1.3" rx="1.15"/>
<rect x="255.85" y="245.15" width="2.3" height="7" fill="#fff" stroke="#585858" stroke-width="1.3" rx="1.15"/>
<rect x="260.25" y="217.05" width="2.3" height="7.3" fill="#fff" stroke="#585858" stroke-width="1.3" rx="1.15"/>
<rect x="260.25" y="245.15" width="2.3" height="7" fill="#fff" stroke="#585858" stroke-width="1.3" rx="1.15"/>
<path d="M240.8 227.5 L264.4 227.5 L264.4 231.25 L271 231.25 L271 233.65 L266.4 233.65 L266.4 236.05 L271 236.05 L271 238.45 L264.4 238.45 L264.4 242.2 L240.8 242.2 L240.8 238.45 L233.4 238.45 L233.4 236.05 L238.8 236.05 L238.8 233.65 L233.4 233.65 L233.4 231.25 L240.8 231.25 Z" fill="#fff" stroke="#606060" stroke-width="1.25" stroke-linejoin="round"/>
<path d="M239.8 220 H238 V228.3" fill="none" stroke="#000" stroke-width="1.3"/>
<path d="M239.8 249.6 H238 V241.3" fill="none" stroke="#000" stroke-width="1.3"/>
<path d="M264.3 220 H266.1 V228.3" fill="none" stroke="#000" stroke-width="1.3"/>
<path d="M264.3 249.6 H266.1 V241.3" fill="none" stroke="#000" stroke-width="1.3"/>
<circle cx="272.3" cy="223.4" r="2.3" fill="#000"/>
<text class="l" x="274" y="236.5" textLength="7.7" lengthAdjust="spacingAndGlyphs">U1</text>
<rect x="238.57" y="255.72" width="7.85" height="17.45" fill="#fff" stroke="#585858" stroke-width="1.45" rx="0.5"/>
<rect x="239.5" y="256.8" width="6" height="5.45" fill="#fff" stroke="#5e5e5e" stroke-width="1"/>
<rect x="239.5" y="266.65" width="6" height="5.45" fill="#fff" stroke="#5e5e5e" stroke-width="1"/>
<rect x="247.88" y="255.77" width="17.45" height="7.85" fill="#fff" stroke="#585858" stroke-width="1.45" rx="0.5"/>
<rect x="248.95" y="256.7" width="5.45" height="6" fill="#fff" stroke="#5e5e5e" stroke-width="1"/>
<rect x="258.8" y="256.7" width="5.45" height="6" fill="#fff" stroke="#5e5e5e" stroke-width="1"/>
<rect x="267.43" y="255.77" width="17.45" height="7.85" fill="#fff" stroke="#585858" stroke-width="1.45" rx="0.5"/>
<rect x="268.5" y="256.7" width="5.45" height="6" fill="#fff" stroke="#5e5e5e" stroke-width="1"/>
<rect x="278.35" y="256.7" width="5.45" height="6" fill="#fff" stroke="#5e5e5e" stroke-width="1"/>
<text class="l" x="289.5" y="263.2" textLength="9.3" lengthAdjust="spacingAndGlyphs">C4</text>
<rect x="248.22" y="265.38" width="7.85" height="17.45" fill="#fff" stroke="#585858" stroke-width="1.45" rx="0.5"/>
<rect x="249.15" y="266.45" width="6" height="5.45" fill="#fff" stroke="#5e5e5e" stroke-width="1"/>
<rect x="249.15" y="276.3" width="6" height="5.45" fill="#fff" stroke="#5e5e5e" stroke-width="1"/>
<text class="l" transform="translate(265.35 274.6) rotate(-90)" textLength="9.5" lengthAdjust="spacingAndGlyphs">R6</text>
<rect x="266.85" y="266.75" width="23.5" height="10.7" fill="#fff" stroke="#141414" stroke-width="1.5"/>
<rect x="268.93" y="268.52" width="4.35" height="7.15" fill="#fff" stroke="#525252" stroke-width="1.05" rx="0.6"/>
<rect x="283.93" y="268.52" width="4.35" height="7.15" fill="#fff" stroke="#525252" stroke-width="1.05" rx="0.6"/>
<text class="l" x="293.1" y="275.7" textLength="9" lengthAdjust="spacingAndGlyphs">C6</text>
<text class="l" transform="translate(246.05 284) rotate(-90)" textLength="9.4" lengthAdjust="spacingAndGlyphs">C5</text>
<text class="l" transform="translate(255.55 293) rotate(-90)" textLength="9.6" lengthAdjust="spacingAndGlyphs">R7</text>
<text class="l" x="207.7" y="286.7" textLength="9.3" lengthAdjust="spacingAndGlyphs">R8</text>
<rect x="208.18" y="289.68" width="17.45" height="7.85" fill="#fff" stroke="#585858" stroke-width="1.45" rx="0.5"/>
<rect x="209.25" y="290.6" width="5.45" height="6" fill="#fff" stroke="#5e5e5e" stroke-width="1"/>
<rect x="219.1" y="290.6" width="5.45" height="6" fill="#fff" stroke="#5e5e5e" stroke-width="1"/>
<rect x="206.1" y="299.5" width="5.2" height="7.7" fill="#000" stroke="#000" stroke-width="0.6"/>
<rect x="209.05" y="300.65" width="6.1" height="5.4" fill="#fff" stroke="#1a1a1a" stroke-width="1.3" rx="1"/>
<rect x="219.32" y="300.52" width="5.85" height="5.65" fill="#fff" stroke="#2a2a2a" stroke-width="1.25" rx="1"/>
<text class="l" x="228.6" y="306.8" textLength="7.6" lengthAdjust="spacingAndGlyphs">D1</text>
<rect x="208.18" y="308.83" width="17.45" height="7.85" fill="#fff" stroke="#585858" stroke-width="1.45" rx="0.5"/>
<rect x="209.25" y="309.75" width="5.45" height="6" fill="#fff" stroke="#5e5e5e" stroke-width="1"/>
<rect x="219.1" y="309.75" width="5.45" height="6" fill="#fff" stroke="#5e5e5e" stroke-width="1"/>
<rect x="207" y="322" width="5.2" height="7.4" fill="#000" stroke="#000" stroke-width="0.6"/>
<rect x="209.95" y="323.15" width="5.7" height="5.1" fill="#fff" stroke="#1a1a1a" stroke-width="1.3" rx="1"/>
<rect x="220.32" y="323.02" width="5.75" height="5.35" fill="#fff" stroke="#2a2a2a" stroke-width="1.25" rx="1"/>
<rect x="207" y="332.8" width="5.2" height="7.7" fill="#000" stroke="#000" stroke-width="0.6"/>
<rect x="209.95" y="333.95" width="5.7" height="5.4" fill="#fff" stroke="#1a1a1a" stroke-width="1.3" rx="1"/>
<rect x="220.32" y="333.82" width="5.75" height="5.65" fill="#fff" stroke="#2a2a2a" stroke-width="1.25" rx="1"/>
<rect x="232.28" y="321.78" width="17.45" height="7.85" fill="#fff" stroke="#141414" stroke-width="1.45" rx="0.5"/>
<rect x="233.35" y="322.7" width="5.45" height="6" fill="#fff" stroke="#5e5e5e" stroke-width="1"/>
<rect x="243.2" y="322.7" width="5.45" height="6" fill="#fff" stroke="#5e5e5e" stroke-width="1"/>
<text class="l" x="253" y="328.8" textLength="13.5" lengthAdjust="spacingAndGlyphs">R15</text>
<rect x="232.28" y="332.73" width="17.45" height="7.85" fill="#fff" stroke="#141414" stroke-width="1.45" rx="0.5"/>
<rect x="233.35" y="333.65" width="5.45" height="6" fill="#fff" stroke="#5e5e5e" stroke-width="1"/>
<rect x="243.2" y="333.65" width="5.45" height="6" fill="#fff" stroke="#5e5e5e" stroke-width="1"/>
<text class="l" x="253" y="340" textLength="13.5" lengthAdjust="spacingAndGlyphs">R21</text>
<text class="l" x="207.5" y="349.7" textLength="13" lengthAdjust="spacingAndGlyphs">R12</text>
<text class="l" x="208" y="358.8" textLength="8.7" lengthAdjust="spacingAndGlyphs">D2</text>
<text class="l" x="208" y="368" textLength="8.7" lengthAdjust="spacingAndGlyphs">D3</text>
<rect x="240.75" y="296.55" width="10.5" height="22.4" fill="#fff" stroke="#141414" stroke-width="1.5"/>
<rect x="242.53" y="298.62" width="6.95" height="4.35" fill="#fff" stroke="#525252" stroke-width="1.05" rx="0.6"/>
<rect x="242.53" y="312.52" width="6.95" height="4.35" fill="#fff" stroke="#525252" stroke-width="1.05" rx="0.6"/>
<text class="l" transform="translate(262.95 311.5) rotate(-90)" textLength="7.8" lengthAdjust="spacingAndGlyphs">F1</text>
<line x1="238.3" y1="347" x2="248.9" y2="347" stroke="#000" stroke-width="1.3"/>
<line x1="238.3" y1="400.5" x2="248.9" y2="400.5" stroke="#000" stroke-width="1.3"/>
<rect x="236.72" y="349.38" width="5.25" height="2.25" fill="#f4f4f4" stroke="#2c2c2c" stroke-width="1.05" rx="1.12"/>
<rect x="244.53" y="349.38" width="5.55" height="2.25" fill="#f4f4f4" stroke="#2c2c2c" stroke-width="1.05" rx="1.12"/>
<rect x="236.72" y="354.18" width="5.25" height="2.25" fill="#f4f4f4" stroke="#2c2c2c" stroke-width="1.05" rx="1.12"/>
<rect x="244.53" y="354.18" width="5.55" height="2.25" fill="#f4f4f4" stroke="#2c2c2c" stroke-width="1.05" rx="1.12"/>
<rect x="236.72" y="358.88" width="5.25" height="2.25" fill="#f4f4f4" stroke="#2c2c2c" stroke-width="1.05" rx="1.12"/>
<rect x="244.53" y="358.88" width="5.55" height="2.25" fill="#f4f4f4" stroke="#2c2c2c" stroke-width="1.05" rx="1.12"/>
<rect x="236.72" y="363.57" width="5.25" height="2.25" fill="#f4f4f4" stroke="#2c2c2c" stroke-width="1.05" rx="1.12"/>
<rect x="244.53" y="363.57" width="5.55" height="2.25" fill="#f4f4f4" stroke="#2c2c2c" stroke-width="1.05" rx="1.12"/>
<rect x="236.72" y="368.38" width="5.25" height="2.25" fill="#f4f4f4" stroke="#2c2c2c" stroke-width="1.05" rx="1.12"/>
<rect x="244.53" y="368.38" width="5.55" height="2.25" fill="#f4f4f4" stroke="#2c2c2c" stroke-width="1.05" rx="1.12"/>
<rect x="236.72" y="377.38" width="5.25" height="2.25" fill="#f4f4f4" stroke="#2c2c2c" stroke-width="1.05" rx="1.12"/>
<rect x="244.53" y="377.38" width="5.55" height="2.25" fill="#f4f4f4" stroke="#2c2c2c" stroke-width="1.05" rx="1.12"/>
<rect x="236.72" y="382.07" width="5.25" height="2.25" fill="#f4f4f4" stroke="#2c2c2c" stroke-width="1.05" rx="1.12"/>
<rect x="244.53" y="382.07" width="5.55" height="2.25" fill="#f4f4f4" stroke="#2c2c2c" stroke-width="1.05" rx="1.12"/>
<rect x="236.72" y="386.77" width="5.25" height="2.25" fill="#f4f4f4" stroke="#2c2c2c" stroke-width="1.05" rx="1.12"/>
<rect x="244.53" y="386.77" width="5.55" height="2.25" fill="#f4f4f4" stroke="#2c2c2c" stroke-width="1.05" rx="1.12"/>
<rect x="236.72" y="391.38" width="5.25" height="2.25" fill="#f4f4f4" stroke="#2c2c2c" stroke-width="1.05" rx="1.12"/>
<rect x="244.53" y="391.38" width="5.55" height="2.25" fill="#f4f4f4" stroke="#2c2c2c" stroke-width="1.05" rx="1.12"/>
<rect x="236.72" y="396.27" width="5.25" height="2.25" fill="#f4f4f4" stroke="#2c2c2c" stroke-width="1.05" rx="1.12"/>
<rect x="244.53" y="396.27" width="5.55" height="2.25" fill="#f4f4f4" stroke="#2c2c2c" stroke-width="1.05" rx="1.12"/>
<line x1="238.3" y1="373" x2="248.9" y2="373" stroke="#555" stroke-width="1.2"/>
<line x1="238.3" y1="375" x2="248.9" y2="375" stroke="#555" stroke-width="1.2"/>
<rect x="238.3" y="372.4" width="10.6" height="3.2" fill="#5a5a5a" stroke="none" stroke-width="0"/>
<circle cx="253.4" cy="369.5" r="1.5" fill="#000"/>
<circle cx="253.4" cy="397.4" r="1.5" fill="#000"/>
<text class="l" transform="translate(235.35 365) rotate(-90)" textLength="9" lengthAdjust="spacingAndGlyphs">U4</text>
<text class="l" transform="translate(235.35 395.4) rotate(-90)" textLength="9" lengthAdjust="spacingAndGlyphs">U6</text>
<line x1="238.3" y1="590.8" x2="248.9" y2="590.8" stroke="#000" stroke-width="1.3"/>
<line x1="238.3" y1="644.3" x2="248.9" y2="644.3" stroke="#000" stroke-width="1.3"/>
<rect x="236.72" y="593.17" width="5.25" height="2.25" fill="#f4f4f4" stroke="#2c2c2c" stroke-width="1.05" rx="1.12"/>
<rect x="244.53" y="593.17" width="5.55" height="2.25" fill="#f4f4f4" stroke="#2c2c2c" stroke-width="1.05" rx="1.12"/>
<rect x="236.72" y="597.98" width="5.25" height="2.25" fill="#f4f4f4" stroke="#2c2c2c" stroke-width="1.05" rx="1.12"/>
<rect x="244.53" y="597.98" width="5.55" height="2.25" fill="#f4f4f4" stroke="#2c2c2c" stroke-width="1.05" rx="1.12"/>
<rect x="236.72" y="602.67" width="5.25" height="2.25" fill="#f4f4f4" stroke="#2c2c2c" stroke-width="1.05" rx="1.12"/>
<rect x="244.53" y="602.67" width="5.55" height="2.25" fill="#f4f4f4" stroke="#2c2c2c" stroke-width="1.05" rx="1.12"/>
<rect x="236.72" y="607.38" width="5.25" height="2.25" fill="#f4f4f4" stroke="#2c2c2c" stroke-width="1.05" rx="1.12"/>
<rect x="244.53" y="607.38" width="5.55" height="2.25" fill="#f4f4f4" stroke="#2c2c2c" stroke-width="1.05" rx="1.12"/>
<rect x="236.72" y="612.17" width="5.25" height="2.25" fill="#f4f4f4" stroke="#2c2c2c" stroke-width="1.05" rx="1.12"/>
<rect x="244.53" y="612.17" width="5.55" height="2.25" fill="#f4f4f4" stroke="#2c2c2c" stroke-width="1.05" rx="1.12"/>
<rect x="236.72" y="621.17" width="5.25" height="2.25" fill="#f4f4f4" stroke="#2c2c2c" stroke-width="1.05" rx="1.12"/>
<rect x="244.53" y="621.17" width="5.55" height="2.25" fill="#f4f4f4" stroke="#2c2c2c" stroke-width="1.05" rx="1.12"/>
<rect x="236.72" y="625.88" width="5.25" height="2.25" fill="#f4f4f4" stroke="#2c2c2c" stroke-width="1.05" rx="1.12"/>
<rect x="244.53" y="625.88" width="5.55" height="2.25" fill="#f4f4f4" stroke="#2c2c2c" stroke-width="1.05" rx="1.12"/>
<rect x="236.72" y="630.58" width="5.25" height="2.25" fill="#f4f4f4" stroke="#2c2c2c" stroke-width="1.05" rx="1.12"/>
<rect x="244.53" y="630.58" width="5.55" height="2.25" fill="#f4f4f4" stroke="#2c2c2c" stroke-width="1.05" rx="1.12"/>
<rect x="236.72" y="635.17" width="5.25" height="2.25" fill="#f4f4f4" stroke="#2c2c2c" stroke-width="1.05" rx="1.12"/>
<rect x="244.53" y="635.17" width="5.55" height="2.25" fill="#f4f4f4" stroke="#2c2c2c" stroke-width="1.05" rx="1.12"/>
<rect x="236.72" y="640.08" width="5.25" height="2.25" fill="#f4f4f4" stroke="#2c2c2c" stroke-width="1.05" rx="1.12"/>
<rect x="244.53" y="640.08" width="5.55" height="2.25" fill="#f4f4f4" stroke="#2c2c2c" stroke-width="1.05" rx="1.12"/>
<line x1="238.3" y1="616.8" x2="248.9" y2="616.8" stroke="#555" stroke-width="1.2"/>
<line x1="238.3" y1="618.8" x2="248.9" y2="618.8" stroke="#555" stroke-width="1.2"/>
<rect x="238.3" y="616.2" width="10.6" height="3.2" fill="#5a5a5a" stroke="none" stroke-width="0"/>
<circle cx="253.6" cy="613.3" r="1.5" fill="#000"/>
<circle cx="253.6" cy="641" r="1.5" fill="#000"/>
<text class="l" transform="translate(234.45 612.5) rotate(-90)" textLength="11.7" lengthAdjust="spacingAndGlyphs">U10</text>
<text class="l" transform="translate(234.45 639.2) rotate(-90)" textLength="11" lengthAdjust="spacingAndGlyphs">U11</text>
<rect x="293.93" y="294.63" width="7.85" height="17.45" fill="#fff" stroke="#141414" stroke-width="1.45" rx="0.5"/>
<rect x="294.85" y="295.7" width="6" height="5.45" fill="#fff" stroke="#5e5e5e" stroke-width="1"/>
<rect x="294.85" y="305.55" width="6" height="5.45" fill="#fff" stroke="#5e5e5e" stroke-width="1"/>
<rect x="304.43" y="294.63" width="7.85" height="17.45" fill="#fff" stroke="#141414" stroke-width="1.45" rx="0.5"/>
<rect x="305.35" y="295.7" width="6" height="5.45" fill="#fff" stroke="#5e5e5e" stroke-width="1"/>
<rect x="305.35" y="305.55" width="6" height="5.45" fill="#fff" stroke="#5e5e5e" stroke-width="1"/>
<text class="l" transform="translate(301.65 291.7) rotate(-90)" textLength="9.3" lengthAdjust="spacingAndGlyphs">R9</text>
<text class="l" transform="translate(311.95 291.7) rotate(-90)" textLength="12.7" lengthAdjust="spacingAndGlyphs">R10</text>
<rect x="283.73" y="318.78" width="7.85" height="17.45" fill="#fff" stroke="#141414" stroke-width="1.45" rx="0.5"/>
<rect x="284.65" y="319.85" width="6" height="5.45" fill="#fff" stroke="#5e5e5e" stroke-width="1"/>
<rect x="284.65" y="329.7" width="6" height="5.45" fill="#fff" stroke="#5e5e5e" stroke-width="1"/>
<rect x="293.93" y="318.78" width="7.85" height="17.45" fill="#fff" stroke="#141414" stroke-width="1.45" rx="0.5"/>
<rect x="294.85" y="319.85" width="6" height="5.45" fill="#fff" stroke="#5e5e5e" stroke-width="1"/>
<rect x="294.85" y="329.7" width="6" height="5.45" fill="#fff" stroke="#5e5e5e" stroke-width="1"/>
<rect x="304.43" y="318.78" width="7.85" height="17.45" fill="#fff" stroke="#141414" stroke-width="1.45" rx="0.5"/>
<rect x="305.35" y="319.85" width="6" height="5.45" fill="#fff" stroke="#5e5e5e" stroke-width="1"/>
<rect x="305.35" y="329.7" width="6" height="5.45" fill="#fff" stroke="#5e5e5e" stroke-width="1"/>
<rect x="314.43" y="318.78" width="7.85" height="17.45" fill="#fff" stroke="#141414" stroke-width="1.45" rx="0.5"/>
<rect x="315.35" y="319.85" width="6" height="5.45" fill="#fff" stroke="#5e5e5e" stroke-width="1"/>
<rect x="315.35" y="329.7" width="6" height="5.45" fill="#fff" stroke="#5e5e5e" stroke-width="1"/>
<rect x="324.58" y="318.78" width="7.85" height="17.45" fill="#fff" stroke="#141414" stroke-width="1.45" rx="0.5"/>
<rect x="325.5" y="319.85" width="6" height="5.45" fill="#fff" stroke="#5e5e5e" stroke-width="1"/>
<rect x="325.5" y="329.7" width="6" height="5.45" fill="#fff" stroke="#5e5e5e" stroke-width="1"/>
<text class="l" transform="translate(290.35 315.8) rotate(-90)" textLength="12.2" lengthAdjust="spacingAndGlyphs">R16</text>
<text class="l" transform="translate(321.95 315.8) rotate(-90)" textLength="12.5" lengthAdjust="spacingAndGlyphs">R19</text>
<text class="l" transform="translate(332.35 315.8) rotate(-90)" textLength="13" lengthAdjust="spacingAndGlyphs">R20</text>
<text class="l" x="289.7" y="344.2" textLength="12" lengthAdjust="spacingAndGlyphs">R17</text>
<text class="l" x="304" y="344.2" textLength="12" lengthAdjust="spacingAndGlyphs">R18</text>
<rect x="287.95" y="345.85" width="1.58" height="8.1" fill="#efefef" stroke="#555" stroke-width="1.1" rx="0.79"/>
<rect x="287.95" y="393.75" width="1.58" height="8.5" fill="#efefef" stroke="#555" stroke-width="1.1" rx="0.79"/>
<rect x="276.65" y="356.65" width="8.5" height="1.58" fill="#efefef" stroke="#555" stroke-width="1.1" rx="0.79"/>
<rect x="324.95" y="356.65" width="8.2" height="1.58" fill="#efefef" stroke="#555" stroke-width="1.1" rx="0.79"/>
<rect x="291.63" y="345.85" width="1.58" height="8.1" fill="#efefef" stroke="#555" stroke-width="1.1" rx="0.79"/>
<rect x="291.63" y="393.75" width="1.58" height="8.5" fill="#efefef" stroke="#555" stroke-width="1.1" rx="0.79"/>
<rect x="276.65" y="360.33" width="8.5" height="1.58" fill="#efefef" stroke="#555" stroke-width="1.1" rx="0.79"/>
<rect x="324.95" y="360.33" width="8.2" height="1.58" fill="#efefef" stroke="#555" stroke-width="1.1" rx="0.79"/>
<rect x="295.31" y="345.85" width="1.58" height="8.1" fill="#efefef" stroke="#555" stroke-width="1.1" rx="0.79"/>
<rect x="295.31" y="393.75" width="1.58" height="8.5" fill="#efefef" stroke="#555" stroke-width="1.1" rx="0.79"/>
<rect x="276.65" y="364.01" width="8.5" height="1.58" fill="#efefef" stroke="#555" stroke-width="1.1" rx="0.79"/>
<rect x="324.95" y="364.01" width="8.2" height="1.58" fill="#efefef" stroke="#555" stroke-width="1.1" rx="0.79"/>
<rect x="298.99" y="345.85" width="1.58" height="8.1" fill="#efefef" stroke="#555" stroke-width="1.1" rx="0.79"/>
<rect x="298.99" y="393.75" width="1.58" height="8.5" fill="#efefef" stroke="#555" stroke-width="1.1" rx="0.79"/>
<rect x="276.65" y="367.69" width="8.5" height="1.58" fill="#efefef" stroke="#555" stroke-width="1.1" rx="0.79"/>
<rect x="324.95" y="367.69" width="8.2" height="1.58" fill="#efefef" stroke="#555" stroke-width="1.1" rx="0.79"/>
<rect x="302.67" y="345.85" width="1.58" height="8.1" fill="#efefef" stroke="#555" stroke-width="1.1" rx="0.79"/>
<rect x="302.67" y="393.75" width="1.58" height="8.5" fill="#efefef" stroke="#555" stroke-width="1.1" rx="0.79"/>
<rect x="276.65" y="371.37" width="8.5" height="1.58" fill="#efefef" stroke="#555" stroke-width="1.1" rx="0.79"/>
<rect x="324.95" y="371.37" width="8.2" height="1.58" fill="#efefef" stroke="#555" stroke-width="1.1" rx="0.79"/>
<rect x="306.35" y="345.85" width="1.58" height="8.1" fill="#efefef" stroke="#555" stroke-width="1.1" rx="0.79"/>
<rect x="306.35" y="393.75" width="1.58" height="8.5" fill="#efefef" stroke="#555" stroke-width="1.1" rx="0.79"/>
<rect x="276.65" y="375.05" width="8.5" height="1.58" fill="#efefef" stroke="#555" stroke-width="1.1" rx="0.79"/>
<rect x="324.95" y="375.05" width="8.2" height="1.58" fill="#efefef" stroke="#555" stroke-width="1.1" rx="0.79"/>
<rect x="310.03" y="345.85" width="1.58" height="8.1" fill="#efefef" stroke="#555" stroke-width="1.1" rx="0.79"/>
<rect x="310.03" y="393.75" width="1.58" height="8.5" fill="#efefef" stroke="#555" stroke-width="1.1" rx="0.79"/>
<rect x="276.65" y="378.73" width="8.5" height="1.58" fill="#efefef" stroke="#555" stroke-width="1.1" rx="0.79"/>
<rect x="324.95" y="378.73" width="8.2" height="1.58" fill="#efefef" stroke="#555" stroke-width="1.1" rx="0.79"/>
<rect x="313.71" y="345.85" width="1.58" height="8.1" fill="#efefef" stroke="#555" stroke-width="1.1" rx="0.79"/>
<rect x="313.71" y="393.75" width="1.58" height="8.5" fill="#efefef" stroke="#555" stroke-width="1.1" rx="0.79"/>
<rect x="276.65" y="382.41" width="8.5" height="1.58" fill="#efefef" stroke="#555" stroke-width="1.1" rx="0.79"/>
<rect x="324.95" y="382.41" width="8.2" height="1.58" fill="#efefef" stroke="#555" stroke-width="1.1" rx="0.79"/>
<rect x="317.39" y="345.85" width="1.58" height="8.1" fill="#efefef" stroke="#555" stroke-width="1.1" rx="0.79"/>
<rect x="317.39" y="393.75" width="1.58" height="8.5" fill="#efefef" stroke="#555" stroke-width="1.1" rx="0.79"/>
<rect x="276.65" y="386.09" width="8.5" height="1.58" fill="#efefef" stroke="#555" stroke-width="1.1" rx="0.79"/>
<rect x="324.95" y="386.09" width="8.2" height="1.58" fill="#efefef" stroke="#555" stroke-width="1.1" rx="0.79"/>
<rect x="321.07" y="345.85" width="1.58" height="8.1" fill="#efefef" stroke="#555" stroke-width="1.1" rx="0.79"/>
<rect x="321.07" y="393.75" width="1.58" height="8.5" fill="#efefef" stroke="#555" stroke-width="1.1" rx="0.79"/>
<rect x="276.65" y="389.77" width="8.5" height="1.58" fill="#efefef" stroke="#555" stroke-width="1.1" rx="0.79"/>
<rect x="324.95" y="389.77" width="8.2" height="1.58" fill="#efefef" stroke="#555" stroke-width="1.1" rx="0.79"/>
<rect x="290.75" y="359.15" width="29.3" height="29.5" fill="#fff" stroke="#777" stroke-width="1.1"/>
<path d="M281.3 353.9 V349.9 H285.3" fill="none" stroke="#000" stroke-width="1.3"/>
<path d="M329 353.9 V349.9 H325" fill="none" stroke="#000" stroke-width="1.3"/>
<path d="M281.3 393.4 V397.4 H285.3" fill="none" stroke="#000" stroke-width="1.3"/>
<path d="M329 393.4 V397.4 H325" fill="none" stroke="#000" stroke-width="1.3"/>
<circle cx="337.9" cy="390.8" r="1.9" fill="#000"/>
<text class="l" transform="translate(273.65 378.3) rotate(-90)" textLength="9.5" lengthAdjust="spacingAndGlyphs">U5</text>
<rect x="357.93" y="337.58" width="17.45" height="7.85" fill="#fff" stroke="#141414" stroke-width="1.45" rx="0.5"/>
<rect x="359" y="338.5" width="5.45" height="6" fill="#fff" stroke="#5e5e5e" stroke-width="1"/>
<rect x="368.85" y="338.5" width="5.45" height="6" fill="#fff" stroke="#5e5e5e" stroke-width="1"/>
<text class="l" x="377.5" y="345" textLength="9.7" lengthAdjust="spacingAndGlyphs">C9</text>
<rect x="357.93" y="347.23" width="17.45" height="7.85" fill="#fff" stroke="#141414" stroke-width="1.45" rx="0.5"/>
<rect x="359" y="348.15" width="5.45" height="6" fill="#fff" stroke="#5e5e5e" stroke-width="1"/>
<rect x="368.85" y="348.15" width="5.45" height="6" fill="#fff" stroke="#5e5e5e" stroke-width="1"/>
<text class="l" x="341.3" y="354.5" textLength="12.9" lengthAdjust="spacingAndGlyphs">C10</text>
<rect x="357.93" y="364.43" width="17.45" height="7.85" fill="#fff" stroke="#141414" stroke-width="1.45" rx="0.5"/>
<rect x="359" y="365.35" width="5.45" height="6" fill="#fff" stroke="#5e5e5e" stroke-width="1"/>
<rect x="368.85" y="365.35" width="5.45" height="6" fill="#fff" stroke="#5e5e5e" stroke-width="1"/>
<text class="l" x="342.2" y="371.3" textLength="12.5" lengthAdjust="spacingAndGlyphs">C11</text>
<rect x="357.93" y="374.43" width="17.45" height="7.85" fill="#fff" stroke="#141414" stroke-width="1.45" rx="0.5"/>
<rect x="359" y="375.35" width="5.45" height="6" fill="#fff" stroke="#5e5e5e" stroke-width="1"/>
<rect x="368.85" y="375.35" width="5.45" height="6" fill="#fff" stroke="#5e5e5e" stroke-width="1"/>
<text class="l" x="342.2" y="381.5" textLength="12.7" lengthAdjust="spacingAndGlyphs">C12</text>
<rect x="357.93" y="391.08" width="17.45" height="7.85" fill="#fff" stroke="#141414" stroke-width="1.45" rx="0.5"/>
<rect x="359" y="392" width="5.45" height="6" fill="#fff" stroke="#5e5e5e" stroke-width="1"/>
<rect x="368.85" y="392" width="5.45" height="6" fill="#fff" stroke="#5e5e5e" stroke-width="1"/>
<text class="l" x="343" y="398.5" textLength="12.8" lengthAdjust="spacingAndGlyphs">C15</text>
<rect x="357.93" y="400.68" width="17.45" height="7.85" fill="#fff" stroke="#141414" stroke-width="1.45" rx="0.5"/>
<rect x="359" y="401.6" width="5.45" height="6" fill="#fff" stroke="#5e5e5e" stroke-width="1"/>
<rect x="368.85" y="401.6" width="5.45" height="6" fill="#fff" stroke="#5e5e5e" stroke-width="1"/>
<text class="l" x="343" y="408" textLength="12.8" lengthAdjust="spacingAndGlyphs">C16</text>
<rect x="378.58" y="350.88" width="17.45" height="7.85" fill="#fff" stroke="#141414" stroke-width="1.45" rx="0.5"/>
<rect x="379.65" y="351.8" width="5.45" height="6" fill="#fff" stroke="#5e5e5e" stroke-width="1"/>
<rect x="389.5" y="351.8" width="5.45" height="6" fill="#fff" stroke="#5e5e5e" stroke-width="1"/>
<text class="l" x="398" y="358.2" textLength="14.7" lengthAdjust="spacingAndGlyphs">R22</text>
<rect x="378.58" y="360.88" width="17.45" height="7.85" fill="#fff" stroke="#141414" stroke-width="1.45" rx="0.5"/>
<rect x="379.65" y="361.8" width="5.45" height="6" fill="#fff" stroke="#5e5e5e" stroke-width="1"/>
<rect x="389.5" y="361.8" width="5.45" height="6" fill="#fff" stroke="#5e5e5e" stroke-width="1"/>
<text class="l" x="398" y="368.3" textLength="14.7" lengthAdjust="spacingAndGlyphs">R23</text>
<rect x="378.58" y="377.58" width="17.45" height="7.85" fill="#fff" stroke="#141414" stroke-width="1.45" rx="0.5"/>
<rect x="379.65" y="378.5" width="5.45" height="6" fill="#fff" stroke="#5e5e5e" stroke-width="1"/>
<rect x="389.5" y="378.5" width="5.45" height="6" fill="#fff" stroke="#5e5e5e" stroke-width="1"/>
<text class="l" x="398.3" y="385" textLength="13" lengthAdjust="spacingAndGlyphs">C13</text>
<rect x="378.58" y="387.58" width="17.45" height="7.85" fill="#fff" stroke="#141414" stroke-width="1.45" rx="0.5"/>
<rect x="379.65" y="388.5" width="5.45" height="6" fill="#fff" stroke="#5e5e5e" stroke-width="1"/>
<rect x="389.5" y="388.5" width="5.45" height="6" fill="#fff" stroke="#5e5e5e" stroke-width="1"/>
<text class="l" x="398.3" y="394.8" textLength="13" lengthAdjust="spacingAndGlyphs">C14</text>
<text class="l" x="297" y="413" textLength="14.7" lengthAdjust="spacingAndGlyphs">R25</text>
<rect x="290.68" y="415.13" width="7.85" height="17.45" fill="#fff" stroke="#141414" stroke-width="1.45" rx="0.5"/>
<rect x="291.6" y="416.2" width="6" height="5.45" fill="#fff" stroke="#5e5e5e" stroke-width="1"/>
<rect x="291.6" y="426.05" width="6" height="5.45" fill="#fff" stroke="#5e5e5e" stroke-width="1"/>
<rect x="290.68" y="437.78" width="7.85" height="17.45" fill="#fff" stroke="#141414" stroke-width="1.45" rx="0.5"/>
<rect x="291.6" y="438.85" width="6" height="5.45" fill="#fff" stroke="#5e5e5e" stroke-width="1"/>
<rect x="291.6" y="448.7" width="6" height="5.45" fill="#fff" stroke="#5e5e5e" stroke-width="1"/>
<rect x="301.33" y="415.13" width="7.85" height="17.45" fill="#fff" stroke="#141414" stroke-width="1.45" rx="0.5"/>
<rect x="302.25" y="416.2" width="6" height="5.45" fill="#fff" stroke="#5e5e5e" stroke-width="1"/>
<rect x="302.25" y="426.05" width="6" height="5.45" fill="#fff" stroke="#5e5e5e" stroke-width="1"/>
<rect x="301.33" y="437.78" width="7.85" height="17.45" fill="#fff" stroke="#141414" stroke-width="1.45" rx="0.5"/>
<rect x="302.25" y="438.85" width="6" height="5.45" fill="#fff" stroke="#5e5e5e" stroke-width="1"/>
<rect x="302.25" y="448.7" width="6" height="5.45" fill="#fff" stroke="#5e5e5e" stroke-width="1"/>
<rect x="312.08" y="415.13" width="7.85" height="17.45" fill="#fff" stroke="#141414" stroke-width="1.45" rx="0.5"/>
<rect x="313" y="416.2" width="6" height="5.45" fill="#fff" stroke="#5e5e5e" stroke-width="1"/>
<rect x="313" y="426.05" width="6" height="5.45" fill="#fff" stroke="#5e5e5e" stroke-width="1"/>
<rect x="312.08" y="437.78" width="7.85" height="17.45" fill="#fff" stroke="#141414" stroke-width="1.45" rx="0.5"/>
<rect x="313" y="438.85" width="6" height="5.45" fill="#fff" stroke="#5e5e5e" stroke-width="1"/>
<rect x="313" y="448.7" width="6" height="5.45" fill="#fff" stroke="#5e5e5e" stroke-width="1"/>
<text class="l" transform="translate(288.35 432.5) rotate(-90)" textLength="14.2" lengthAdjust="spacingAndGlyphs">R24</text>
<text class="l" transform="translate(329.45 432.5) rotate(-90)" textLength="14.2" lengthAdjust="spacingAndGlyphs">R26</text>
<text class="l" transform="translate(288.35 455.8) rotate(-90)" textLength="14.1" lengthAdjust="spacingAndGlyphs">R28</text>
<text class="l" transform="translate(308.95 470.8) rotate(-90)" textLength="13.3" lengthAdjust="spacingAndGlyphs">C19</text>
<text class="l" transform="translate(319.15 470.8) rotate(-90)" textLength="14.2" lengthAdjust="spacingAndGlyphs">R29</text>
<rect x="336.43" y="456.28" width="7.85" height="17.45" fill="#fff" stroke="#141414" stroke-width="1.45" rx="0.5"/>
<rect x="337.35" y="457.35" width="6" height="5.45" fill="#fff" stroke="#5e5e5e" stroke-width="1"/>
<rect x="337.35" y="467.2" width="6" height="5.45" fill="#fff" stroke="#5e5e5e" stroke-width="1"/>
<rect x="346.08" y="456.28" width="7.85" height="17.45" fill="#fff" stroke="#141414" stroke-width="1.45" rx="0.5"/>
<rect x="347" y="457.35" width="6" height="5.45" fill="#fff" stroke="#5e5e5e" stroke-width="1"/>
<rect x="347" y="467.2" width="6" height="5.45" fill="#fff" stroke="#5e5e5e" stroke-width="1"/>
<rect x="355.98" y="456.28" width="7.85" height="17.45" fill="#fff" stroke="#141414" stroke-width="1.45" rx="0.5"/>
<rect x="356.9" y="457.35" width="6" height="5.45" fill="#fff" stroke="#5e5e5e" stroke-width="1"/>
<rect x="356.9" y="467.2" width="6" height="5.45" fill="#fff" stroke="#5e5e5e" stroke-width="1"/>
<text class="l" transform="translate(343.35 454.2) rotate(-90)" textLength="13.4" lengthAdjust="spacingAndGlyphs">C21</text>
<text class="l" transform="translate(353.65 454.2) rotate(-90)" textLength="14.2" lengthAdjust="spacingAndGlyphs">R30</text>
<text class="l" transform="translate(363.65 454.2) rotate(-90)" textLength="13.4" lengthAdjust="spacingAndGlyphs">R31</text>
<circle cx="372.5" cy="473.3" r="2.3" fill="#000"/>
<rect x="349.05" y="478.25" width="2.46" height="7.3" fill="#fff" stroke="#585858" stroke-width="1.3" rx="1.23"/>
<rect x="349.05" y="506.85" width="2.46" height="7" fill="#fff" stroke="#585858" stroke-width="1.3" rx="1.23"/>
<rect x="353.61" y="478.25" width="2.46" height="7.3" fill="#fff" stroke="#585858" stroke-width="1.3" rx="1.23"/>
<rect x="353.61" y="506.85" width="2.46" height="7" fill="#fff" stroke="#585858" stroke-width="1.3" rx="1.23"/>
<rect x="358.17" y="478.25" width="2.46" height="7.3" fill="#fff" stroke="#585858" stroke-width="1.3" rx="1.23"/>
<rect x="358.17" y="506.85" width="2.46" height="7" fill="#fff" stroke="#585858" stroke-width="1.3" rx="1.23"/>
<rect x="362.73" y="478.25" width="2.46" height="7.3" fill="#fff" stroke="#585858" stroke-width="1.3" rx="1.23"/>
<rect x="362.73" y="506.85" width="2.46" height="7" fill="#fff" stroke="#585858" stroke-width="1.3" rx="1.23"/>
<rect x="367.29" y="478.25" width="2.46" height="7.3" fill="#fff" stroke="#585858" stroke-width="1.3" rx="1.23"/>
<rect x="367.29" y="506.85" width="2.46" height="7" fill="#fff" stroke="#585858" stroke-width="1.3" rx="1.23"/>
<path d="M347.2 488.3 L371.6 488.3 L371.6 492.65 L377.5 492.65 L377.5 495.05 L373.6 495.05 L373.6 497.45 L377.5 497.45 L377.5 499.85 L371.6 499.85 L371.6 504.2 L347.2 504.2 L347.2 499.85 L341.3 499.85 L341.3 497.45 L345.2 497.45 L345.2 495.05 L341.3 495.05 L341.3 492.65 L347.2 492.65 Z" fill="#fff" stroke="#606060" stroke-width="1.25" stroke-linejoin="round"/>
<path d="M347.1 481.2 H345.3 V489.5" fill="none" stroke="#000" stroke-width="1.3"/>
<path d="M347.1 511.3 H345.3 V503" fill="none" stroke="#000" stroke-width="1.3"/>
<path d="M372.4 481.2 H374.2 V489.5" fill="none" stroke="#000" stroke-width="1.3"/>
<path d="M372.4 511.3 H374.2 V503" fill="none" stroke="#000" stroke-width="1.3"/>
<text class="l" x="333.3" y="488.3" textLength="9.2" lengthAdjust="spacingAndGlyphs">U9</text>
<rect x="375.93" y="477.88" width="17.45" height="7.85" fill="#fff" stroke="#141414" stroke-width="1.45" rx="0.5"/>
<rect x="377" y="478.8" width="5.45" height="6" fill="#fff" stroke="#5e5e5e" stroke-width="1"/>
<rect x="386.85" y="478.8" width="5.45" height="6" fill="#fff" stroke="#5e5e5e" stroke-width="1"/>
<text class="l" x="395.8" y="484.8" textLength="14" lengthAdjust="spacingAndGlyphs">C22</text>
<rect x="346.08" y="517.52" width="7.85" height="17.45" fill="#fff" stroke="#585858" stroke-width="1.45" rx="0.5"/>
<rect x="347" y="518.6" width="6" height="5.45" fill="#fff" stroke="#5e5e5e" stroke-width="1"/>
<rect x="347" y="528.45" width="6" height="5.45" fill="#fff" stroke="#5e5e5e" stroke-width="1"/>
<rect x="355.58" y="517.48" width="17.45" height="7.85" fill="#fff" stroke="#585858" stroke-width="1.45" rx="0.5"/>
<rect x="356.65" y="518.4" width="5.45" height="6" fill="#fff" stroke="#5e5e5e" stroke-width="1"/>
<rect x="366.5" y="518.4" width="5.45" height="6" fill="#fff" stroke="#5e5e5e" stroke-width="1"/>
<rect x="375.03" y="517.48" width="17.45" height="7.85" fill="#fff" stroke="#141414" stroke-width="1.45" rx="0.5"/>
<rect x="376.1" y="518.4" width="5.45" height="6" fill="#fff" stroke="#5e5e5e" stroke-width="1"/>
<rect x="385.95" y="518.4" width="5.45" height="6" fill="#fff" stroke="#5e5e5e" stroke-width="1"/>
<text class="l" x="395" y="525.3" textLength="14" lengthAdjust="spacingAndGlyphs">C24</text>
<rect x="355.83" y="526.98" width="7.85" height="17.45" fill="#fff" stroke="#585858" stroke-width="1.45" rx="0.5"/>
<rect x="356.75" y="528.05" width="6" height="5.45" fill="#fff" stroke="#5e5e5e" stroke-width="1"/>
<rect x="356.75" y="537.9" width="6" height="5.45" fill="#fff" stroke="#5e5e5e" stroke-width="1"/>
<text class="l" transform="translate(372.85 540) rotate(-90)" textLength="14.2" lengthAdjust="spacingAndGlyphs">R34</text>
<rect x="374.55" y="528.25" width="23" height="10.7" fill="#fff" stroke="#141414" stroke-width="1.5"/>
<rect x="376.62" y="530.02" width="4.35" height="7.15" fill="#fff" stroke="#525252" stroke-width="1.05" rx="0.6"/>
<rect x="391.12" y="530.02" width="4.35" height="7.15" fill="#fff" stroke="#525252" stroke-width="1.05" rx="0.6"/>
<text class="l" x="400.5" y="537" textLength="14" lengthAdjust="spacingAndGlyphs">C26</text>
<text class="l" x="326.7" y="531.5" textLength="14.7" lengthAdjust="spacingAndGlyphs">R38</text>
<rect x="326.73" y="534.18" width="17.45" height="7.85" fill="#fff" stroke="#141414" stroke-width="1.45" rx="0.5"/>
<rect x="327.8" y="535.1" width="5.45" height="6" fill="#fff" stroke="#5e5e5e" stroke-width="1"/>
<rect x="337.65" y="535.1" width="5.45" height="6" fill="#fff" stroke="#5e5e5e" stroke-width="1"/>
<rect x="326.73" y="543.88" width="17.45" height="7.85" fill="#fff" stroke="#141414" stroke-width="1.45" rx="0.5"/>
<rect x="327.8" y="544.8" width="5.45" height="6" fill="#fff" stroke="#5e5e5e" stroke-width="1"/>
<rect x="337.65" y="544.8" width="5.45" height="6" fill="#fff" stroke="#5e5e5e" stroke-width="1"/>
<text class="l" x="327" y="560.3" textLength="13.3" lengthAdjust="spacingAndGlyphs">R41</text>
<text class="l" transform="translate(353.65 550) rotate(-90)" textLength="14.2" lengthAdjust="spacingAndGlyphs">C25</text>
<text class="l" transform="translate(364.45 560) rotate(-90)" textLength="14.2" lengthAdjust="spacingAndGlyphs">R37</text>
<rect x="254.75" y="534.75" width="11.4" height="7.9" fill="#fff" stroke="#444" stroke-width="1.1"/>
<rect x="275.85" y="525.85" width="8.3" height="8" fill="#fff" stroke="#444" stroke-width="1.1"/>
<rect x="275.85" y="544.05" width="8.3" height="8" fill="#fff" stroke="#444" stroke-width="1.1"/>
<path d="M259.5 532.5 V525.5 H273.3" fill="none" stroke="#000" stroke-width="1.7"/>
<path d="M259.5 545 V552.4 H273.3" fill="none" stroke="#000" stroke-width="1.7"/>
<text class="l" x="270" y="521.2" textLength="9.7" lengthAdjust="spacingAndGlyphs">Q2</text>
<rect x="291.05" y="534.75" width="10.9" height="7.9" fill="#fff" stroke="#444" stroke-width="1.1"/>
<rect x="311.85" y="525.85" width="8.4" height="8" fill="#fff" stroke="#444" stroke-width="1.1"/>
<rect x="311.85" y="544.05" width="8.4" height="8" fill="#fff" stroke="#444" stroke-width="1.1"/>
<path d="M295.8 532.5 V525.5 H309.2" fill="none" stroke="#000" stroke-width="1.7"/>
<path d="M295.8 545 V552.4 H309.2" fill="none" stroke="#000" stroke-width="1.7"/>
<text class="l" x="307.2" y="521.2" textLength="10" lengthAdjust="spacingAndGlyphs">Q3</text>
<rect x="223.4" y="535.3" width="6.1" height="5.8" fill="#fff" stroke="#262626" stroke-width="1.2" rx="1"/>
<rect x="222.45" y="549.85" width="8" height="5.2" fill="#000" stroke="#000" stroke-width="0.5"/>
<rect x="222.45" y="546.75" width="1.7" height="8.3" fill="#000" stroke="#000" stroke-width="0.5"/>
<rect x="223.6" y="545.9" width="6.2" height="5.8" fill="#fff" stroke="#1a1a1a" stroke-width="1.2" rx="1"/>
<text class="l" transform="translate(230.35 532.5) rotate(-90)" textLength="9.2" lengthAdjust="spacingAndGlyphs">D4</text>
<rect x="232.32" y="534.62" width="7.85" height="17.45" fill="#fff" stroke="#141414" stroke-width="1.45" rx="0.5"/>
<rect x="233.25" y="535.7" width="6" height="5.45" fill="#fff" stroke="#5e5e5e" stroke-width="1"/>
<rect x="233.25" y="545.55" width="6" height="5.45" fill="#fff" stroke="#5e5e5e" stroke-width="1"/>
<rect x="241.92" y="534.62" width="7.85" height="17.45" fill="#fff" stroke="#141414" stroke-width="1.45" rx="0.5"/>
<rect x="242.85" y="535.7" width="6" height="5.45" fill="#fff" stroke="#5e5e5e" stroke-width="1"/>
<rect x="242.85" y="545.55" width="6" height="5.45" fill="#fff" stroke="#5e5e5e" stroke-width="1"/>
<text class="l" transform="translate(239.95 532.5) rotate(-90)" textLength="14.2" lengthAdjust="spacingAndGlyphs">R39</text>
<text class="l" transform="translate(249.95 532.5) rotate(-90)" textLength="14.2" lengthAdjust="spacingAndGlyphs">R40</text>
<rect x="241.68" y="555.23" width="17.45" height="7.85" fill="#fff" stroke="#141414" stroke-width="1.45" rx="0.5"/>
<rect x="242.75" y="556.15" width="5.45" height="6" fill="#fff" stroke="#5e5e5e" stroke-width="1"/>
<rect x="252.6" y="556.15" width="5.45" height="6" fill="#fff" stroke="#5e5e5e" stroke-width="1"/>
<text class="l" x="262" y="562.3" textLength="14.7" lengthAdjust="spacingAndGlyphs">R42</text>
<text class="l" x="213.3" y="580.8" textLength="14.2" lengthAdjust="spacingAndGlyphs">R44</text>
<rect x="213.12" y="583.58" width="17.45" height="7.85" fill="#fff" stroke="#141414" stroke-width="1.45" rx="0.5"/>
<rect x="214.2" y="584.5" width="5.45" height="6" fill="#fff" stroke="#5e5e5e" stroke-width="1"/>
<rect x="224.05" y="584.5" width="5.45" height="6" fill="#fff" stroke="#5e5e5e" stroke-width="1"/>
<rect x="270.88" y="574.48" width="7.85" height="17.45" fill="#fff" stroke="#585858" stroke-width="1.45" rx="0.5"/>
<rect x="271.8" y="575.55" width="6" height="5.45" fill="#fff" stroke="#5e5e5e" stroke-width="1"/>
<rect x="271.8" y="585.4" width="6" height="5.45" fill="#fff" stroke="#5e5e5e" stroke-width="1"/>
<text class="l" transform="translate(269.95 591.7) rotate(-90)" textLength="14.2" lengthAdjust="spacingAndGlyphs">R43</text>
<rect x="281.95" y="582.95" width="10.3" height="22.5" fill="#fff" stroke="#141414" stroke-width="1.5"/>
<rect x="283.72" y="585.02" width="6.75" height="4.35" fill="#fff" stroke="#525252" stroke-width="1.05" rx="0.6"/>
<rect x="283.72" y="599.03" width="6.75" height="4.35" fill="#fff" stroke="#525252" stroke-width="1.05" rx="0.6"/>
<text class="l" transform="translate(291.15 579.2) rotate(-90)" textLength="14.2" lengthAdjust="spacingAndGlyphs">C32</text>
<rect x="294.73" y="582.92" width="7.85" height="17.45" fill="#fff" stroke="#141414" stroke-width="1.45" rx="0.5"/>
<rect x="295.65" y="584" width="6" height="5.45" fill="#fff" stroke="#5e5e5e" stroke-width="1"/>
<rect x="295.65" y="593.85" width="6" height="5.45" fill="#fff" stroke="#5e5e5e" stroke-width="1"/>
<rect x="303.93" y="582.92" width="7.85" height="17.45" fill="#fff" stroke="#141414" stroke-width="1.45" rx="0.5"/>
<rect x="304.85" y="584" width="6" height="5.45" fill="#fff" stroke="#5e5e5e" stroke-width="1"/>
<rect x="304.85" y="593.85" width="6" height="5.45" fill="#fff" stroke="#5e5e5e" stroke-width="1"/>
<text class="l" transform="translate(301.95 579.2) rotate(-90)" textLength="14.2" lengthAdjust="spacingAndGlyphs">C28</text>
<text class="l" transform="translate(311.65 579.2) rotate(-90)" textLength="14.2" lengthAdjust="spacingAndGlyphs">C29</text>
<rect x="315.73" y="582.92" width="7.85" height="17.45" fill="#fff" stroke="#141414" stroke-width="1.45" rx="0.5"/>
<rect x="316.65" y="584" width="6" height="5.45" fill="#fff" stroke="#5e5e5e" stroke-width="1"/>
<rect x="316.65" y="593.85" width="6" height="5.45" fill="#fff" stroke="#5e5e5e" stroke-width="1"/>
<rect x="325.08" y="582.92" width="7.85" height="17.45" fill="#fff" stroke="#141414" stroke-width="1.45" rx="0.5"/>
<rect x="326" y="584" width="6" height="5.45" fill="#fff" stroke="#5e5e5e" stroke-width="1"/>
<rect x="326" y="593.85" width="6" height="5.45" fill="#fff" stroke="#5e5e5e" stroke-width="1"/>
<text class="l" transform="translate(322.55 579.2) rotate(-90)" textLength="14.2" lengthAdjust="spacingAndGlyphs">C30</text>
<text class="l" transform="translate(332.35 579.2) rotate(-90)" textLength="13.4" lengthAdjust="spacingAndGlyphs">C31</text>
<rect x="336.25" y="582.95" width="10.5" height="22.5" fill="#fff" stroke="#141414" stroke-width="1.5"/>
<rect x="338.02" y="585.02" width="6.95" height="4.35" fill="#fff" stroke="#525252" stroke-width="1.05" rx="0.6"/>
<rect x="338.02" y="599.03" width="6.95" height="4.35" fill="#fff" stroke="#525252" stroke-width="1.05" rx="0.6"/>
<text class="l" transform="translate(346.15 579.2) rotate(-90)" textLength="14.2" lengthAdjust="spacingAndGlyphs">C33</text>
<rect x="356.78" y="599.83" width="17.45" height="7.85" fill="#fff" stroke="#141414" stroke-width="1.45" rx="0.5"/>
<rect x="357.85" y="600.75" width="5.45" height="6" fill="#fff" stroke="#5e5e5e" stroke-width="1"/>
<rect x="367.7" y="600.75" width="5.45" height="6" fill="#fff" stroke="#5e5e5e" stroke-width="1"/>
<text class="l" x="376.7" y="607" textLength="14.6" lengthAdjust="spacingAndGlyphs">R45</text>
<rect x="356.78" y="628.23" width="17.45" height="7.85" fill="#fff" stroke="#141414" stroke-width="1.45" rx="0.5"/>
<rect x="357.85" y="629.15" width="5.45" height="6" fill="#fff" stroke="#5e5e5e" stroke-width="1"/>
<rect x="367.7" y="629.15" width="5.45" height="6" fill="#fff" stroke="#5e5e5e" stroke-width="1"/>
<text class="l" x="376.7" y="635.5" textLength="14.6" lengthAdjust="spacingAndGlyphs">R46</text>
<rect x="283.33" y="640.92" width="7.85" height="17.45" fill="#fff" stroke="#141414" stroke-width="1.45" rx="0.5"/>
<rect x="284.25" y="642" width="6" height="5.45" fill="#fff" stroke="#5e5e5e" stroke-width="1"/>
<rect x="284.25" y="651.85" width="6" height="5.45" fill="#fff" stroke="#5e5e5e" stroke-width="1"/>
<text class="l" transform="translate(291.2 638.3) rotate(-90)" textLength="14.1" lengthAdjust="spacingAndGlyphs">C35</text>
<rect x="293.58" y="640.92" width="7.85" height="17.45" fill="#fff" stroke="#141414" stroke-width="1.45" rx="0.5"/>
<rect x="294.5" y="642" width="6" height="5.45" fill="#fff" stroke="#5e5e5e" stroke-width="1"/>
<rect x="294.5" y="651.85" width="6" height="5.45" fill="#fff" stroke="#5e5e5e" stroke-width="1"/>
<text class="l" transform="translate(301.45 638.3) rotate(-90)" textLength="14.1" lengthAdjust="spacingAndGlyphs">C36</text>
<rect x="302.73" y="640.92" width="7.85" height="17.45" fill="#fff" stroke="#141414" stroke-width="1.45" rx="0.5"/>
<rect x="303.65" y="642" width="6" height="5.45" fill="#fff" stroke="#5e5e5e" stroke-width="1"/>
<rect x="303.65" y="651.85" width="6" height="5.45" fill="#fff" stroke="#5e5e5e" stroke-width="1"/>
<text class="l" transform="translate(310.6 638.3) rotate(-90)" textLength="14.1" lengthAdjust="spacingAndGlyphs">C37</text>
<rect x="312.48" y="640.92" width="7.85" height="17.45" fill="#fff" stroke="#141414" stroke-width="1.45" rx="0.5"/>
<rect x="313.4" y="642" width="6" height="5.45" fill="#fff" stroke="#5e5e5e" stroke-width="1"/>
<rect x="313.4" y="651.85" width="6" height="5.45" fill="#fff" stroke="#5e5e5e" stroke-width="1"/>
<text class="l" transform="translate(320.35 638.3) rotate(-90)" textLength="14.1" lengthAdjust="spacingAndGlyphs">C38</text>
<rect x="326.33" y="640.92" width="7.85" height="17.45" fill="#fff" stroke="#141414" stroke-width="1.45" rx="0.5"/>
<rect x="327.25" y="642" width="6" height="5.45" fill="#fff" stroke="#5e5e5e" stroke-width="1"/>
<rect x="327.25" y="651.85" width="6" height="5.45" fill="#fff" stroke="#5e5e5e" stroke-width="1"/>
<text class="l" transform="translate(334.2 638.3) rotate(-90)" textLength="14.1" lengthAdjust="spacingAndGlyphs">C39</text>
<rect x="335.93" y="640.92" width="7.85" height="17.45" fill="#fff" stroke="#141414" stroke-width="1.45" rx="0.5"/>
<rect x="336.85" y="642" width="6" height="5.45" fill="#fff" stroke="#5e5e5e" stroke-width="1"/>
<rect x="336.85" y="651.85" width="6" height="5.45" fill="#fff" stroke="#5e5e5e" stroke-width="1"/>
<text class="l" transform="translate(343.8 638.3) rotate(-90)" textLength="14.1" lengthAdjust="spacingAndGlyphs">C40</text>
<rect x="306.95" y="663.55" width="23.1" height="10.7" fill="#fff" stroke="#141414" stroke-width="1.5"/>
<rect x="309.02" y="665.32" width="4.35" height="7.15" fill="#fff" stroke="#525252" stroke-width="1.05" rx="0.6"/>
<rect x="323.62" y="665.32" width="4.35" height="7.15" fill="#fff" stroke="#525252" stroke-width="1.05" rx="0.6"/>
<text class="l" x="313.3" y="684.2" textLength="9.2" lengthAdjust="spacingAndGlyphs">L2</text>
<text class="l" x="430" y="539.2" textLength="8.3" lengthAdjust="spacingAndGlyphs">L1</text>
<rect x="425.25" y="540.75" width="23.2" height="10.5" fill="#fff" stroke="#141414" stroke-width="1.5"/>
<rect x="427.32" y="542.52" width="4.35" height="6.95" fill="#fff" stroke="#525252" stroke-width="1.05" rx="0.6"/>
<rect x="442.02" y="542.52" width="4.35" height="6.95" fill="#fff" stroke="#525252" stroke-width="1.05" rx="0.6"/>
<text class="l" x="428.3" y="573.3" textLength="14.2" lengthAdjust="spacingAndGlyphs">C27</text>
<rect x="427.93" y="575.73" width="17.45" height="7.85" fill="#fff" stroke="#141414" stroke-width="1.45" rx="0.5"/>
<rect x="429" y="576.65" width="5.45" height="6" fill="#fff" stroke="#5e5e5e" stroke-width="1"/>
<rect x="438.85" y="576.65" width="5.45" height="6" fill="#fff" stroke="#5e5e5e" stroke-width="1"/>
<text class="l" x="428.3" y="611.7" textLength="14.2" lengthAdjust="spacingAndGlyphs">C34</text>
<rect x="427.93" y="614.43" width="17.45" height="7.85" fill="#fff" stroke="#141414" stroke-width="1.45" rx="0.5"/>
<rect x="429" y="615.35" width="5.45" height="6" fill="#fff" stroke="#5e5e5e" stroke-width="1"/>
<rect x="438.85" y="615.35" width="5.45" height="6" fill="#fff" stroke="#5e5e5e" stroke-width="1"/>
<text class="l" x="428.7" y="649.5" textLength="13" lengthAdjust="spacingAndGlyphs">C41</text>
<rect x="428.13" y="651.73" width="17.45" height="7.85" fill="#fff" stroke="#141414" stroke-width="1.45" rx="0.5"/>
<rect x="429.2" y="652.65" width="5.45" height="6" fill="#fff" stroke="#5e5e5e" stroke-width="1"/>
<rect x="439.05" y="652.65" width="5.45" height="6" fill="#fff" stroke="#5e5e5e" stroke-width="1"/>
<text class="l" x="428.7" y="683.3" textLength="14.3" lengthAdjust="spacingAndGlyphs">C44</text>
<rect x="425.25" y="685.25" width="23.2" height="10.7" fill="#fff" stroke="#141414" stroke-width="1.5"/>
<rect x="427.32" y="687.02" width="4.35" height="7.15" fill="#fff" stroke="#525252" stroke-width="1.05" rx="0.6"/>
<rect x="442.02" y="687.02" width="4.35" height="7.15" fill="#fff" stroke="#525252" stroke-width="1.05" rx="0.6"/>
<text class="l" x="469.7" y="693.7" textLength="7.8" lengthAdjust="spacingAndGlyphs">Y1</text>
<rect x="468.5" y="697.4" width="15" height="16.9" fill="#fff" stroke="#000" stroke-width="1.4"/>
<rect x="470.45" y="699.35" width="11.1" height="13" fill="#fff" stroke="#777" stroke-width="0.9"/>
<rect x="486.72" y="699.23" width="10.55" height="12.75" fill="#fff" stroke="#4c4c4c" stroke-width="1.05"/>
<rect x="470.52" y="720.02" width="10.65" height="12.75" fill="#fff" stroke="#4c4c4c" stroke-width="1.05"/>
<rect x="486.72" y="720.02" width="10.55" height="12.75" fill="#fff" stroke="#4c4c4c" stroke-width="1.05"/>
<line x1="472" y1="715" x2="472" y2="718" stroke="#000" stroke-width="1.4"/>
<line x1="495.8" y1="714" x2="495.8" y2="718" stroke="#000" stroke-width="1.4"/>
<rect x="505.43" y="697.77" width="7.85" height="17.45" fill="#fff" stroke="#141414" stroke-width="1.45" rx="0.5"/>
<rect x="506.35" y="698.85" width="6" height="5.45" fill="#fff" stroke="#5e5e5e" stroke-width="1"/>
<rect x="506.35" y="708.7" width="6" height="5.45" fill="#fff" stroke="#5e5e5e" stroke-width="1"/>
<text class="l" transform="translate(513.35 695) rotate(-90)" textLength="14.5" lengthAdjust="spacingAndGlyphs">C45</text>
<rect x="505.43" y="716.98" width="7.85" height="17.45" fill="#fff" stroke="#141414" stroke-width="1.45" rx="0.5"/>
<rect x="506.35" y="718.05" width="6" height="5.45" fill="#fff" stroke="#5e5e5e" stroke-width="1"/>
<rect x="506.35" y="727.9" width="6" height="5.45" fill="#fff" stroke="#5e5e5e" stroke-width="1"/>
<text class="l" transform="translate(513.35 751.7) rotate(-90)" textLength="14.2" lengthAdjust="spacingAndGlyphs">C46</text>
<rect x="521.23" y="672.38" width="7.85" height="17.45" fill="#fff" stroke="#141414" stroke-width="1.45" rx="0.5"/>
<rect x="522.15" y="673.45" width="6" height="5.45" fill="#fff" stroke="#5e5e5e" stroke-width="1"/>
<rect x="522.15" y="683.3" width="6" height="5.45" fill="#fff" stroke="#5e5e5e" stroke-width="1"/>
<rect x="530.93" y="672.38" width="7.85" height="17.45" fill="#fff" stroke="#141414" stroke-width="1.45" rx="0.5"/>
<rect x="531.85" y="673.45" width="6" height="5.45" fill="#fff" stroke="#5e5e5e" stroke-width="1"/>
<rect x="531.85" y="683.3" width="6" height="5.45" fill="#fff" stroke="#5e5e5e" stroke-width="1"/>
<text class="l" transform="translate(528.65 670) rotate(-90)" textLength="14.2" lengthAdjust="spacingAndGlyphs">R47</text>
<text class="l" transform="translate(538.65 670) rotate(-90)" textLength="14.2" lengthAdjust="spacingAndGlyphs">R48</text>
<rect x="556.73" y="672.38" width="7.85" height="17.45" fill="#fff" stroke="#141414" stroke-width="1.45" rx="0.5"/>
<rect x="557.65" y="673.45" width="6" height="5.45" fill="#fff" stroke="#5e5e5e" stroke-width="1"/>
<rect x="557.65" y="683.3" width="6" height="5.45" fill="#fff" stroke="#5e5e5e" stroke-width="1"/>
<rect x="566.68" y="672.38" width="7.85" height="17.45" fill="#fff" stroke="#141414" stroke-width="1.45" rx="0.5"/>
<rect x="567.6" y="673.45" width="6" height="5.45" fill="#fff" stroke="#5e5e5e" stroke-width="1"/>
<rect x="567.6" y="683.3" width="6" height="5.45" fill="#fff" stroke="#5e5e5e" stroke-width="1"/>
<text class="l" transform="translate(564.45 669.7) rotate(-90)" textLength="14.3" lengthAdjust="spacingAndGlyphs">C42</text>
<text class="l" transform="translate(574.15 669.7) rotate(-90)" textLength="14.3" lengthAdjust="spacingAndGlyphs">C43</text>
<path d="M523.1 697.3 H580.1 V753.9 H526 L523.1 751 Z" fill="none" stroke="#000" stroke-width="1.25"/>
<path d="M523.1 749.5 V753.9 H527.5 Z" fill="#000" stroke="#000" stroke-width="0.5"/>
<rect x="528.82" y="694.88" width="2.65" height="4.45" fill="none" stroke="#444" stroke-width="0.95" rx="0.3"/>
<rect x="528.82" y="751.88" width="2.65" height="4.55" fill="none" stroke="#444" stroke-width="0.95" rx="0.3"/>
<rect x="520.68" y="703.12" width="4.85" height="2.65" fill="none" stroke="#444" stroke-width="0.95" rx="0.3"/>
<rect x="577.68" y="703.12" width="4.95" height="2.65" fill="none" stroke="#444" stroke-width="0.95" rx="0.3"/>
<rect x="533.48" y="694.88" width="2.65" height="4.45" fill="none" stroke="#444" stroke-width="0.95" rx="0.3"/>
<rect x="533.48" y="751.88" width="2.65" height="4.55" fill="none" stroke="#444" stroke-width="0.95" rx="0.3"/>
<rect x="520.68" y="707.78" width="4.85" height="2.65" fill="none" stroke="#444" stroke-width="0.95" rx="0.3"/>
<rect x="577.68" y="707.78" width="4.95" height="2.65" fill="none" stroke="#444" stroke-width="0.95" rx="0.3"/>
<rect x="538.14" y="694.88" width="2.65" height="4.45" fill="none" stroke="#444" stroke-width="0.95" rx="0.3"/>
<rect x="538.14" y="751.88" width="2.65" height="4.55" fill="none" stroke="#444" stroke-width="0.95" rx="0.3"/>
<rect x="520.68" y="712.45" width="4.85" height="2.65" fill="none" stroke="#444" stroke-width="0.95" rx="0.3"/>
<rect x="577.68" y="712.45" width="4.95" height="2.65" fill="none" stroke="#444" stroke-width="0.95" rx="0.3"/>
<rect x="542.8" y="694.88" width="2.65" height="4.45" fill="none" stroke="#444" stroke-width="0.95" rx="0.3"/>
<rect x="542.8" y="751.88" width="2.65" height="4.55" fill="none" stroke="#444" stroke-width="0.95" rx="0.3"/>
<rect x="520.68" y="717.11" width="4.85" height="2.65" fill="none" stroke="#444" stroke-width="0.95" rx="0.3"/>
<rect x="577.68" y="717.11" width="4.95" height="2.65" fill="none" stroke="#444" stroke-width="0.95" rx="0.3"/>
<rect x="547.46" y="694.88" width="2.65" height="4.45" fill="none" stroke="#444" stroke-width="0.95" rx="0.3"/>
<rect x="547.46" y="751.88" width="2.65" height="4.55" fill="none" stroke="#444" stroke-width="0.95" rx="0.3"/>
<rect x="520.68" y="721.76" width="4.85" height="2.65" fill="none" stroke="#444" stroke-width="0.95" rx="0.3"/>
<rect x="577.68" y="721.76" width="4.95" height="2.65" fill="none" stroke="#444" stroke-width="0.95" rx="0.3"/>
<rect x="552.12" y="694.88" width="2.65" height="4.45" fill="none" stroke="#444" stroke-width="0.95" rx="0.3"/>
<rect x="552.12" y="751.88" width="2.65" height="4.55" fill="none" stroke="#444" stroke-width="0.95" rx="0.3"/>
<rect x="520.68" y="726.42" width="4.85" height="2.65" fill="none" stroke="#444" stroke-width="0.95" rx="0.3"/>
<rect x="577.68" y="726.42" width="4.95" height="2.65" fill="none" stroke="#444" stroke-width="0.95" rx="0.3"/>
<rect x="556.78" y="694.88" width="2.65" height="4.45" fill="none" stroke="#444" stroke-width="0.95" rx="0.3"/>
<rect x="556.78" y="751.88" width="2.65" height="4.55" fill="none" stroke="#444" stroke-width="0.95" rx="0.3"/>
<rect x="520.68" y="731.09" width="4.85" height="2.65" fill="none" stroke="#444" stroke-width="0.95" rx="0.3"/>
<rect x="577.68" y="731.09" width="4.95" height="2.65" fill="none" stroke="#444" stroke-width="0.95" rx="0.3"/>
<rect x="561.44" y="694.88" width="2.65" height="4.45" fill="none" stroke="#444" stroke-width="0.95" rx="0.3"/>
<rect x="561.44" y="751.88" width="2.65" height="4.55" fill="none" stroke="#444" stroke-width="0.95" rx="0.3"/>
<rect x="520.68" y="735.75" width="4.85" height="2.65" fill="none" stroke="#444" stroke-width="0.95" rx="0.3"/>
<rect x="577.68" y="735.75" width="4.95" height="2.65" fill="none" stroke="#444" stroke-width="0.95" rx="0.3"/>
<rect x="566.1" y="694.88" width="2.65" height="4.45" fill="none" stroke="#444" stroke-width="0.95" rx="0.3"/>
<rect x="566.1" y="751.88" width="2.65" height="4.55" fill="none" stroke="#444" stroke-width="0.95" rx="0.3"/>
<rect x="520.68" y="740.4" width="4.85" height="2.65" fill="none" stroke="#444" stroke-width="0.95" rx="0.3"/>
<rect x="577.68" y="740.4" width="4.95" height="2.65" fill="none" stroke="#444" stroke-width="0.95" rx="0.3"/>
<rect x="570.76" y="694.88" width="2.65" height="4.45" fill="none" stroke="#444" stroke-width="0.95" rx="0.3"/>
<rect x="570.76" y="751.88" width="2.65" height="4.55" fill="none" stroke="#444" stroke-width="0.95" rx="0.3"/>
<rect x="520.68" y="745.06" width="4.85" height="2.65" fill="none" stroke="#444" stroke-width="0.95" rx="0.3"/>
<rect x="577.68" y="745.06" width="4.95" height="2.65" fill="none" stroke="#444" stroke-width="0.95" rx="0.3"/>
<path d="M538.6 713.2 H564.4 V738 H541.2 L538.6 735.4 Z" fill="#fff" stroke="#666" stroke-width="1"/>
<circle cx="523.7" cy="758.5" r="2.4" fill="#000"/>
<text class="l" x="545.8" y="768" textLength="13.4" lengthAdjust="spacingAndGlyphs">U12</text>
<rect x="587.48" y="712.12" width="7.85" height="17.45" fill="#fff" stroke="#686868" stroke-width="1.45" rx="0.5"/>
<rect x="588.4" y="713.2" width="6" height="5.45" fill="#fff" stroke="#5e5e5e" stroke-width="1"/>
<rect x="588.4" y="723.05" width="6" height="5.45" fill="#fff" stroke="#5e5e5e" stroke-width="1"/>
<text class="l" transform="translate(604.45 729.2) rotate(-90)" textLength="14.2" lengthAdjust="spacingAndGlyphs">R49</text>
<rect x="587.27" y="738.23" width="17.45" height="7.85" fill="#fff" stroke="#141414" stroke-width="1.45" rx="0.5"/>
<rect x="588.35" y="739.15" width="5.45" height="6" fill="#fff" stroke="#5e5e5e" stroke-width="1"/>
<rect x="598.2" y="739.15" width="5.45" height="6" fill="#fff" stroke="#5e5e5e" stroke-width="1"/>
<text class="l" x="608" y="745.7" textLength="13.6" lengthAdjust="spacingAndGlyphs">R50</text>
<rect x="587.27" y="747.73" width="17.45" height="7.85" fill="#fff" stroke="#141414" stroke-width="1.45" rx="0.5"/>
<rect x="588.35" y="748.65" width="5.45" height="6" fill="#fff" stroke="#5e5e5e" stroke-width="1"/>
<rect x="598.2" y="748.65" width="5.45" height="6" fill="#fff" stroke="#5e5e5e" stroke-width="1"/>
<text class="l" x="608" y="755.3" textLength="13" lengthAdjust="spacingAndGlyphs">R51</text>
<rect x="537.93" y="234.03" width="7.85" height="17.45" fill="#fff" stroke="#141414" stroke-width="1.45" rx="0.5"/>
<rect x="538.85" y="235.1" width="6" height="5.45" fill="#fff" stroke="#5e5e5e" stroke-width="1"/>
<rect x="538.85" y="244.95" width="6" height="5.45" fill="#fff" stroke="#5e5e5e" stroke-width="1"/>
<rect x="547.93" y="234.03" width="7.85" height="17.45" fill="#fff" stroke="#141414" stroke-width="1.45" rx="0.5"/>
<rect x="548.85" y="235.1" width="6" height="5.45" fill="#fff" stroke="#5e5e5e" stroke-width="1"/>
<rect x="548.85" y="244.95" width="6" height="5.45" fill="#fff" stroke="#5e5e5e" stroke-width="1"/>
<text class="l" transform="translate(545.35 231.7) rotate(-90)" textLength="9.2" lengthAdjust="spacingAndGlyphs">R5</text>
<text class="l" transform="translate(555.65 231.7) rotate(-90)" textLength="9.2" lengthAdjust="spacingAndGlyphs">C3</text>
<circle cx="561.2" cy="248.7" r="2.45" fill="#000"/>
<rect x="546.3" y="255.2" width="2.42" height="11.8" fill="#f2f2f2" stroke="#8a8a8a" stroke-width="1" rx="1.21"/>
<rect x="546.3" y="281.3" width="2.42" height="11.9" fill="#f2f2f2" stroke="#8a8a8a" stroke-width="1" rx="1.21"/>
<rect x="550.72" y="255.2" width="2.43" height="11.8" fill="#f2f2f2" stroke="#8a8a8a" stroke-width="1" rx="1.21"/>
<rect x="550.72" y="281.3" width="2.43" height="11.9" fill="#f2f2f2" stroke="#8a8a8a" stroke-width="1" rx="1.21"/>
<rect x="555.15" y="255.2" width="2.43" height="11.8" fill="#f2f2f2" stroke="#8a8a8a" stroke-width="1" rx="1.21"/>
<rect x="555.15" y="281.3" width="2.43" height="11.9" fill="#f2f2f2" stroke="#8a8a8a" stroke-width="1" rx="1.21"/>
<rect x="559.58" y="255.2" width="2.42" height="11.8" fill="#f2f2f2" stroke="#8a8a8a" stroke-width="1" rx="1.21"/>
<rect x="559.58" y="281.3" width="2.42" height="11.9" fill="#f2f2f2" stroke="#8a8a8a" stroke-width="1" rx="1.21"/>
<path d="M543.1 258 H540.5 V290 H543.1" fill="none" stroke="#000" stroke-width="1.7"/>
<path d="M564.9 258 H567.5 V290 H564.9" fill="none" stroke="#000" stroke-width="1.7"/>
<text class="l" x="524.3" y="265.3" textLength="10.6" lengthAdjust="spacingAndGlyphs">U3</text>
<rect x="542.73" y="298.18" width="7.85" height="17.45" fill="#fff" stroke="#141414" stroke-width="1.45" rx="0.5"/>
<rect x="543.65" y="299.25" width="6" height="5.45" fill="#fff" stroke="#5e5e5e" stroke-width="1"/>
<rect x="543.65" y="309.1" width="6" height="5.45" fill="#fff" stroke="#5e5e5e" stroke-width="1"/>
<rect x="552.23" y="298.18" width="7.85" height="17.45" fill="#fff" stroke="#141414" stroke-width="1.45" rx="0.5"/>
<rect x="553.15" y="299.25" width="6" height="5.45" fill="#fff" stroke="#5e5e5e" stroke-width="1"/>
<rect x="553.15" y="309.1" width="6" height="5.45" fill="#fff" stroke="#5e5e5e" stroke-width="1"/>
<text class="l" transform="translate(550.85 330.8) rotate(-90)" textLength="12.5" lengthAdjust="spacingAndGlyphs">R11</text>
<text class="l" transform="translate(561.15 326.7) rotate(-90)" textLength="9.2" lengthAdjust="spacingAndGlyphs">C7</text>
<rect x="619.18" y="212.38" width="7.85" height="17.45" fill="#fff" stroke="#141414" stroke-width="1.45" rx="0.5"/>
<rect x="620.1" y="213.45" width="6" height="5.45" fill="#fff" stroke="#5e5e5e" stroke-width="1"/>
<rect x="620.1" y="223.3" width="6" height="5.45" fill="#fff" stroke="#5e5e5e" stroke-width="1"/>
<rect x="631.33" y="212.38" width="7.85" height="17.45" fill="#fff" stroke="#141414" stroke-width="1.45" rx="0.5"/>
<rect x="632.25" y="213.45" width="6" height="5.45" fill="#fff" stroke="#5e5e5e" stroke-width="1"/>
<rect x="632.25" y="223.3" width="6" height="5.45" fill="#fff" stroke="#5e5e5e" stroke-width="1"/>
<text class="l" transform="translate(626.65 208.3) rotate(-90)" textLength="9.2" lengthAdjust="spacingAndGlyphs">R3</text>
<text class="l" transform="translate(638.95 208.3) rotate(-90)" textLength="9.2" lengthAdjust="spacingAndGlyphs">R4</text>
<rect x="595.8" y="236.8" width="5.7" height="19.7" fill="#fff" stroke="#868686" stroke-width="1" rx="2.85"/>
<rect x="595.8" y="287.5" width="5.7" height="19.5" fill="#fff" stroke="#868686" stroke-width="1" rx="2.85"/>
<rect x="608" y="236.8" width="5.7" height="19.7" fill="#fff" stroke="#868686" stroke-width="1" rx="2.85"/>
<rect x="608" y="287.5" width="5.7" height="19.5" fill="#fff" stroke="#868686" stroke-width="1" rx="2.85"/>
<rect x="620.2" y="236.8" width="5.7" height="19.7" fill="#fff" stroke="#868686" stroke-width="1" rx="2.85"/>
<rect x="620.2" y="287.5" width="5.7" height="19.5" fill="#fff" stroke="#868686" stroke-width="1" rx="2.85"/>
<rect x="632.2" y="236.8" width="5.7" height="19.7" fill="#fff" stroke="#868686" stroke-width="1" rx="2.85"/>
<rect x="632.2" y="287.5" width="5.7" height="19.5" fill="#fff" stroke="#868686" stroke-width="1" rx="2.85"/>
<path d="M593.3 258 H640 V268.3 H635.8 V275.8 H640 V286.3 H593.3 Z" fill="#fff" stroke="#000" stroke-width="1.5"/>
<circle cx="643.3" cy="247.2" r="3.3" fill="none" stroke="#444" stroke-width="0.9"/>
<text class="l" x="643.7" y="266.3" textLength="8.8" lengthAdjust="spacingAndGlyphs">U2</text>
<rect x="594.58" y="313.78" width="7.85" height="17.45" fill="#fff" stroke="#141414" stroke-width="1.45" rx="0.5"/>
<rect x="595.5" y="314.85" width="6" height="5.45" fill="#fff" stroke="#5e5e5e" stroke-width="1"/>
<rect x="595.5" y="324.7" width="6" height="5.45" fill="#fff" stroke="#5e5e5e" stroke-width="1"/>
<rect x="606.73" y="313.78" width="7.85" height="17.45" fill="#fff" stroke="#141414" stroke-width="1.45" rx="0.5"/>
<rect x="607.65" y="314.85" width="6" height="5.45" fill="#fff" stroke="#5e5e5e" stroke-width="1"/>
<rect x="607.65" y="324.7" width="6" height="5.45" fill="#fff" stroke="#5e5e5e" stroke-width="1"/>
<rect x="631.08" y="313.78" width="7.85" height="17.45" fill="#fff" stroke="#141414" stroke-width="1.45" rx="0.5"/>
<rect x="632" y="314.85" width="6" height="5.45" fill="#fff" stroke="#5e5e5e" stroke-width="1"/>
<rect x="632" y="324.7" width="6" height="5.45" fill="#fff" stroke="#5e5e5e" stroke-width="1"/>
<text class="l" transform="translate(601.95 347.5) rotate(-90)" textLength="12.5" lengthAdjust="spacingAndGlyphs">R13</text>
<text class="l" transform="translate(614.45 347.5) rotate(-90)" textLength="12.5" lengthAdjust="spacingAndGlyphs">R14</text>
<text class="l" transform="translate(638.95 347.5) rotate(-90)" textLength="9.2" lengthAdjust="spacingAndGlyphs">C8</text>
<rect x="531.73" y="418.88" width="7.85" height="17.45" fill="#fff" stroke="#585858" stroke-width="1.45" rx="0.5"/>
<rect x="532.65" y="419.95" width="6" height="5.45" fill="#fff" stroke="#5e5e5e" stroke-width="1"/>
<rect x="532.65" y="429.8" width="6" height="5.45" fill="#fff" stroke="#5e5e5e" stroke-width="1"/>
<rect x="541.68" y="418.88" width="7.85" height="17.45" fill="#fff" stroke="#141414" stroke-width="1.45" rx="0.5"/>
<rect x="542.6" y="419.95" width="6" height="5.45" fill="#fff" stroke="#5e5e5e" stroke-width="1"/>
<rect x="542.6" y="429.8" width="6" height="5.45" fill="#fff" stroke="#5e5e5e" stroke-width="1"/>
<text class="l" transform="translate(539.45 415.8) rotate(-90)" textLength="13.8" lengthAdjust="spacingAndGlyphs">R27</text>
<text class="l" transform="translate(549.45 415.8) rotate(-90)" textLength="12.5" lengthAdjust="spacingAndGlyphs">C17</text>
<circle cx="555.3" cy="433.7" r="2.45" fill="#000"/>
<rect x="540.5" y="439.7" width="2.42" height="11.5" fill="#f2f2f2" stroke="#8a8a8a" stroke-width="1" rx="1.21"/>
<rect x="540.5" y="466.3" width="2.42" height="11.5" fill="#f2f2f2" stroke="#8a8a8a" stroke-width="1" rx="1.21"/>
<rect x="544.92" y="439.7" width="2.43" height="11.5" fill="#f2f2f2" stroke="#8a8a8a" stroke-width="1" rx="1.21"/>
<rect x="544.92" y="466.3" width="2.43" height="11.5" fill="#f2f2f2" stroke="#8a8a8a" stroke-width="1" rx="1.21"/>
<rect x="549.35" y="439.7" width="2.43" height="11.5" fill="#f2f2f2" stroke="#8a8a8a" stroke-width="1" rx="1.21"/>
<rect x="549.35" y="466.3" width="2.43" height="11.5" fill="#f2f2f2" stroke="#8a8a8a" stroke-width="1" rx="1.21"/>
<rect x="553.78" y="439.7" width="2.42" height="11.5" fill="#f2f2f2" stroke="#8a8a8a" stroke-width="1" rx="1.21"/>
<rect x="553.78" y="466.3" width="2.42" height="11.5" fill="#f2f2f2" stroke="#8a8a8a" stroke-width="1" rx="1.21"/>
<path d="M537.3 443.3 H534.7 V474.5 H537.3" fill="none" stroke="#000" stroke-width="1.7"/>
<path d="M558.7 443.3 H561.3 V474.5 H558.7" fill="none" stroke="#000" stroke-width="1.7"/>
<text class="l" x="514.2" y="449.2" textLength="8.8" lengthAdjust="spacingAndGlyphs">U8</text>
<rect x="537.08" y="482.78" width="7.85" height="17.45" fill="#fff" stroke="#141414" stroke-width="1.45" rx="0.5"/>
<rect x="538" y="483.85" width="6" height="5.45" fill="#fff" stroke="#5e5e5e" stroke-width="1"/>
<rect x="538" y="493.7" width="6" height="5.45" fill="#fff" stroke="#5e5e5e" stroke-width="1"/>
<rect x="546.73" y="482.78" width="7.85" height="17.45" fill="#fff" stroke="#141414" stroke-width="1.45" rx="0.5"/>
<rect x="547.65" y="483.85" width="6" height="5.45" fill="#fff" stroke="#5e5e5e" stroke-width="1"/>
<rect x="547.65" y="493.7" width="6" height="5.45" fill="#fff" stroke="#5e5e5e" stroke-width="1"/>
<text class="l" transform="translate(544.45 515) rotate(-90)" textLength="13.3" lengthAdjust="spacingAndGlyphs">R33</text>
<text class="l" transform="translate(554.15 515) rotate(-90)" textLength="13.3" lengthAdjust="spacingAndGlyphs">C23</text>
<text class="l" x="577" y="436.7" textLength="13.3" lengthAdjust="spacingAndGlyphs">C18</text>
<rect x="576.92" y="439.23" width="17.45" height="7.85" fill="#fff" stroke="#141414" stroke-width="1.45" rx="0.5"/>
<rect x="578" y="440.15" width="5.45" height="6" fill="#fff" stroke="#5e5e5e" stroke-width="1"/>
<rect x="587.85" y="440.15" width="5.45" height="6" fill="#fff" stroke="#5e5e5e" stroke-width="1"/>
<rect x="576.92" y="453.73" width="17.45" height="7.85" fill="#fff" stroke="#141414" stroke-width="1.45" rx="0.5"/>
<rect x="578" y="454.65" width="5.45" height="6" fill="#fff" stroke="#5e5e5e" stroke-width="1"/>
<rect x="587.85" y="454.65" width="5.45" height="6" fill="#fff" stroke="#5e5e5e" stroke-width="1"/>
<text class="l" x="576.7" y="470.8" textLength="13.3" lengthAdjust="spacingAndGlyphs">C20</text>
<circle cx="597.8" cy="463.3" r="2" fill="#000"/>
<text class="l" x="602" y="427" textLength="9.3" lengthAdjust="spacingAndGlyphs">U7</text>
<rect x="602" y="434.4" width="36.7" height="32.2" fill="#fff" stroke="#000" stroke-width="1.6"/>
<rect x="608.25" y="430.25" width="2.8" height="7.3" fill="none" stroke="#444" stroke-width="0.9"/>
<rect x="608.25" y="463.25" width="2.8" height="7.3" fill="none" stroke="#444" stroke-width="0.9"/>
<rect x="612.55" y="430.25" width="2.8" height="7.3" fill="none" stroke="#444" stroke-width="0.9"/>
<rect x="612.55" y="463.25" width="2.8" height="7.3" fill="none" stroke="#444" stroke-width="0.9"/>
<rect x="616.85" y="430.25" width="2.8" height="7.3" fill="none" stroke="#444" stroke-width="0.9"/>
<rect x="616.85" y="463.25" width="2.8" height="7.3" fill="none" stroke="#444" stroke-width="0.9"/>
<rect x="621.15" y="430.25" width="2.8" height="7.3" fill="none" stroke="#444" stroke-width="0.9"/>
<rect x="621.15" y="463.25" width="2.8" height="7.3" fill="none" stroke="#444" stroke-width="0.9"/>
<rect x="625.45" y="430.25" width="2.8" height="7.3" fill="none" stroke="#444" stroke-width="0.9"/>
<rect x="625.45" y="463.25" width="2.8" height="7.3" fill="none" stroke="#444" stroke-width="0.9"/>
<rect x="629.75" y="430.25" width="2.8" height="7.3" fill="none" stroke="#444" stroke-width="0.9"/>
<rect x="629.75" y="463.25" width="2.8" height="7.3" fill="none" stroke="#444" stroke-width="0.9"/>
<rect x="597.95" y="442.15" width="6.9" height="2.4" fill="none" stroke="#484848" stroke-width="0.9" rx="0.6"/>
<rect x="635.75" y="442.15" width="7.1" height="2.4" fill="none" stroke="#484848" stroke-width="0.9" rx="0.6"/>
<rect x="597.95" y="456.65" width="6.9" height="2.4" fill="none" stroke="#484848" stroke-width="0.9" rx="0.6"/>
<rect x="635.75" y="456.65" width="7.1" height="2.4" fill="none" stroke="#484848" stroke-width="0.9" rx="0.6"/>
<text class="l" x="599.2" y="486.7" textLength="14.1" lengthAdjust="spacingAndGlyphs">R32</text>
<rect x="618.77" y="480.38" width="17.45" height="7.85" fill="#fff" stroke="#141414" stroke-width="1.45" rx="0.5"/>
<rect x="619.85" y="481.3" width="5.45" height="6" fill="#fff" stroke="#5e5e5e" stroke-width="1"/>
<rect x="629.7" y="481.3" width="5.45" height="6" fill="#fff" stroke="#5e5e5e" stroke-width="1"/>
<rect x="619.25" y="491.05" width="7.7" height="10.6" fill="#fff" stroke="#444" stroke-width="1.1"/>
<rect x="609.75" y="511.35" width="7.7" height="8.1" fill="#fff" stroke="#444" stroke-width="1.1"/>
<rect x="628.05" y="511.35" width="7.7" height="8.1" fill="#fff" stroke="#444" stroke-width="1.1"/>
<path d="M615.8 495 H608.7 V509.2" fill="none" stroke="#000" stroke-width="1.7"/>
<path d="M630 495 H636.7 V509.2" fill="none" stroke="#000" stroke-width="1.7"/>
<text class="l" x="593" y="516.3" textLength="7.8" lengthAdjust="spacingAndGlyphs">Q1</text>
<rect x="609.83" y="522.77" width="7.85" height="17.45" fill="#fff" stroke="#141414" stroke-width="1.45" rx="0.5"/>
<rect x="610.75" y="523.85" width="6" height="5.45" fill="#fff" stroke="#5e5e5e" stroke-width="1"/>
<rect x="610.75" y="533.7" width="6" height="5.45" fill="#fff" stroke="#5e5e5e" stroke-width="1"/>
<rect x="619.23" y="522.77" width="7.85" height="17.45" fill="#fff" stroke="#141414" stroke-width="1.45" rx="0.5"/>
<rect x="620.15" y="523.85" width="6" height="5.45" fill="#fff" stroke="#5e5e5e" stroke-width="1"/>
<rect x="620.15" y="533.7" width="6" height="5.45" fill="#fff" stroke="#5e5e5e" stroke-width="1"/>
<text class="l" transform="translate(617.35 555) rotate(-90)" textLength="13.3" lengthAdjust="spacingAndGlyphs">R35</text>
<text class="l" transform="translate(626.95 555) rotate(-90)" textLength="13.3" lengthAdjust="spacingAndGlyphs">R36</text>
</g>
</svg>
</body></html>
